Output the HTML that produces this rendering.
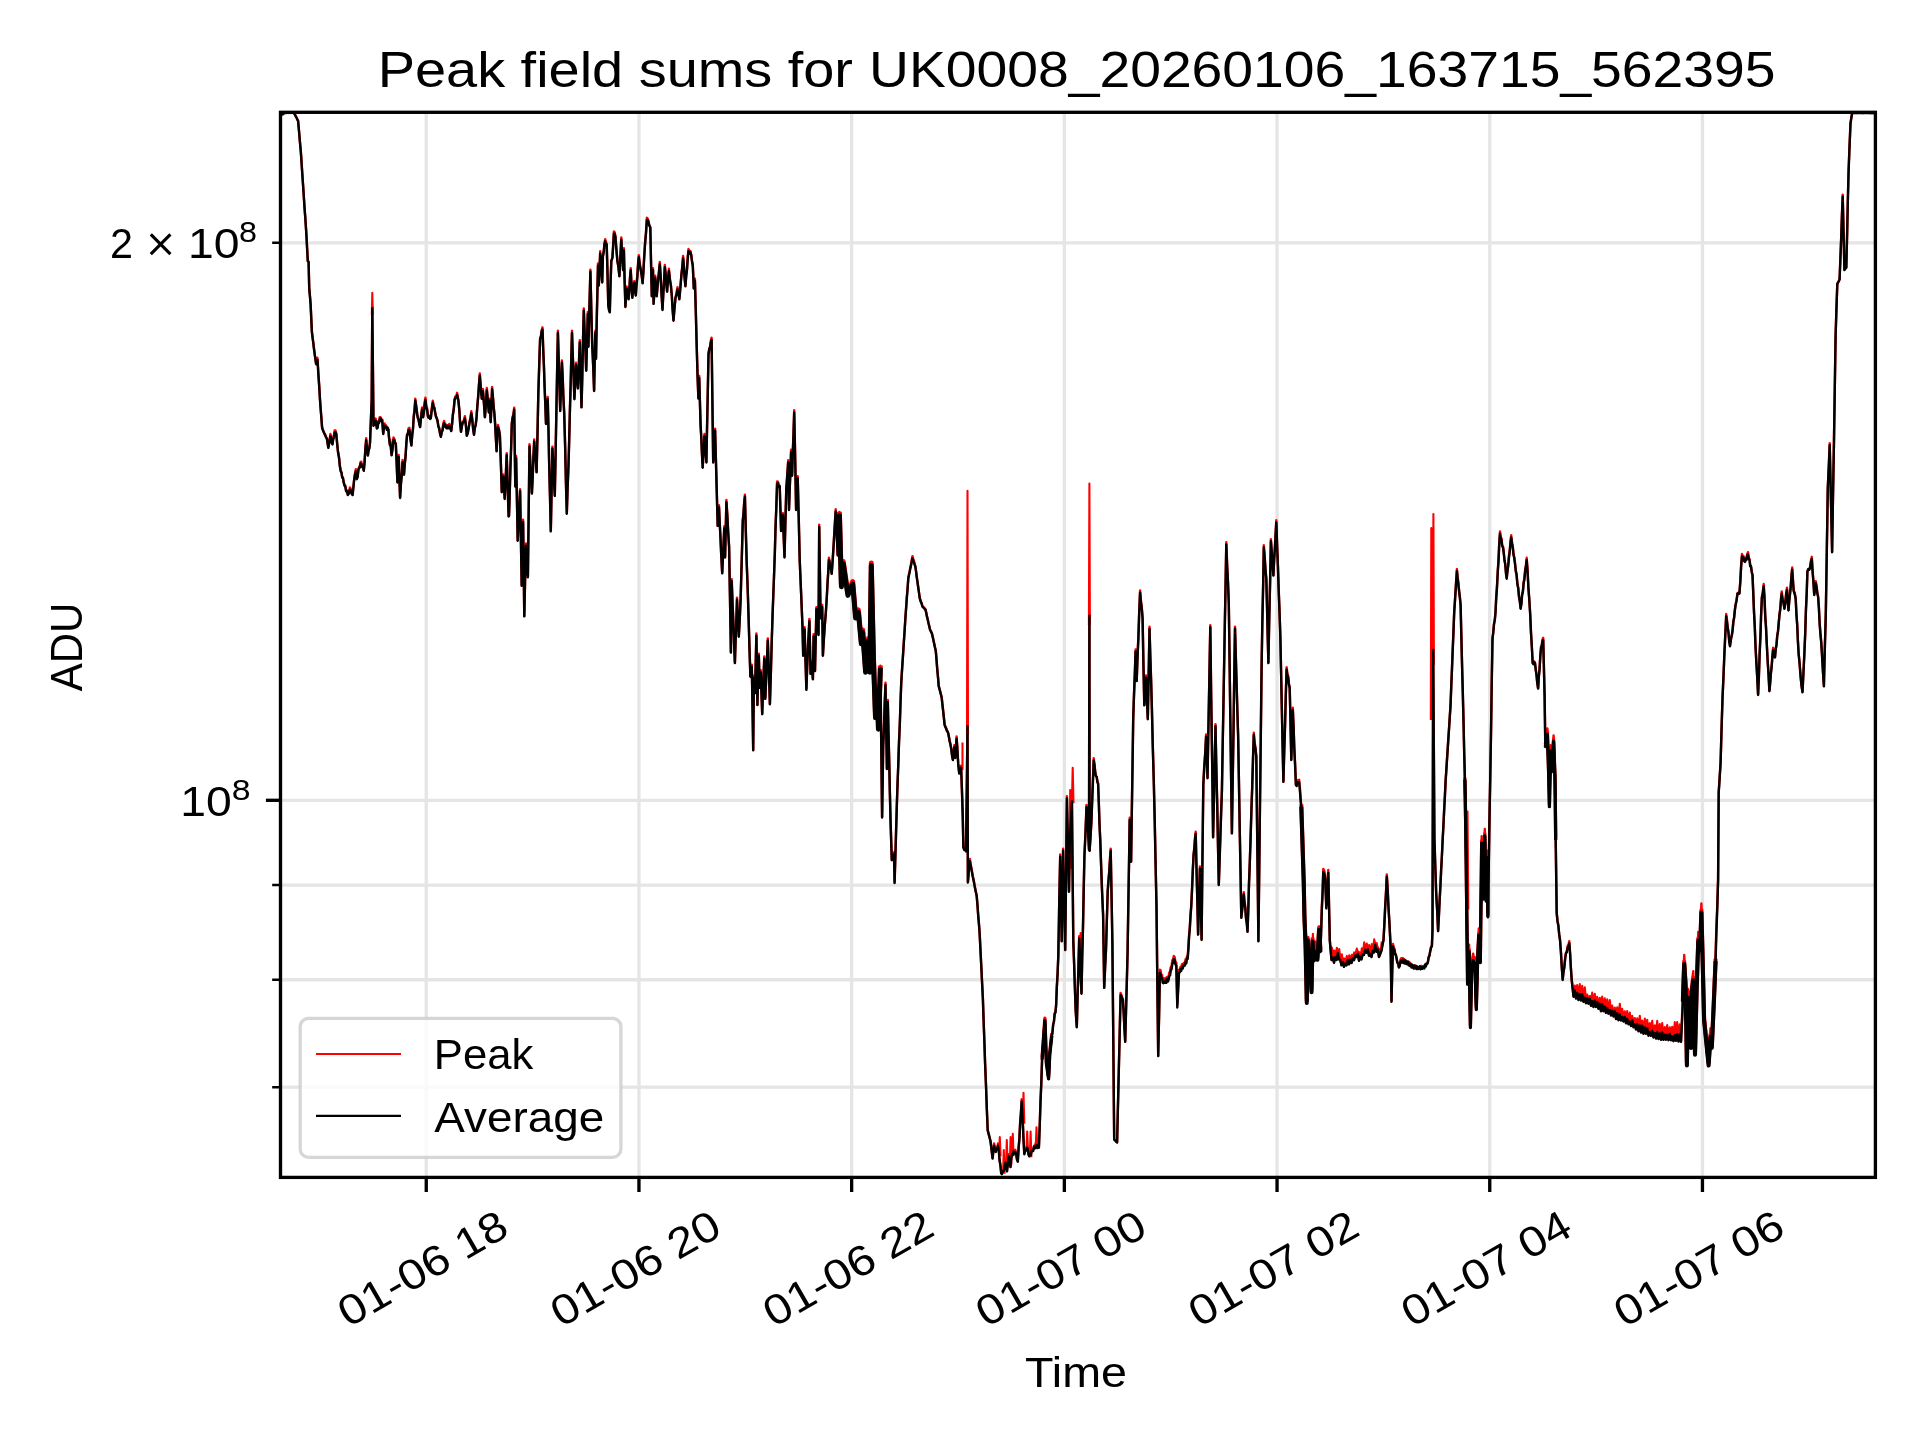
<!DOCTYPE html>
<html><head><meta charset="utf-8"><title>Peak field sums</title>
<style>html,body{margin:0;padding:0;background:#fff;width:1920px;height:1440px;overflow:hidden}svg{display:block;will-change:transform}text{fill:#000}</style>
</head><body>
<svg width="1920" height="1440" viewBox="0 0 1920 1440">
<defs><clipPath id="ax"><rect x="280.5" y="112.3" width="1594.90" height="1065.10"/></clipPath></defs>
<rect x="0" y="0" width="1920" height="1440" fill="#fff"/>
<path d="M426.25 112.30V1177.40M638.95 112.30V1177.40M851.65 112.30V1177.40M1064.35 112.30V1177.40M1277.05 112.30V1177.40M1489.75 112.30V1177.40M1702.45 112.30V1177.40M280.50 800.30H1875.40M280.50 242.79H1875.40M280.50 885.04H1875.40M280.50 979.78H1875.40M280.50 1087.18H1875.40" stroke="#e5e5e5" stroke-width="3.33" fill="none"/>
<g clip-path="url(#ax)">
<path d="M270.0 112.3L270.7 110.6L271.4 114.0L272.1 111.7L272.8 112.9L273.5 110.7L274.2 113.8L274.9 110.9L275.6 113.2L276.3 111.0L277.0 113.6L277.7 111.0L278.4 113.0L279.1 111.2L279.8 113.3L280.5 110.8L281.2 114.1L281.9 110.6L282.7 113.5L283.4 111.2L284.1 113.2L284.8 111.7L285.5 112.4L286.2 112.1L286.9 112.4L287.6 112.1L288.3 112.5L289.0 112.1L289.7 112.5L290.4 112.2L291.1 112.4L291.8 112.2L292.5 112.4L293.2 112.1L293.9 112.3L294.6 114.0L295.3 114.9L296.0 116.6L296.7 117.6L297.4 119.4L298.1 120.6L299.0 130.6L299.9 141.3L300.8 151.2L301.5 161.4L302.2 172.2L302.9 182.3L303.6 192.8L304.5 207.0L305.5 220.3L306.4 234.5L307.1 247.8L307.8 260.9L308.6 261.5L309.2 287.3L309.9 295.4L310.6 303.9L311.9 331.7L312.6 337.5L313.3 342.6L314.0 348.5L314.7 353.9L315.4 358.6L316.1 363.7L317.5 357.8L318.3 372.0L319.2 385.4L320.0 399.5L320.7 409.0L321.4 417.9L322.1 427.3L323.1 430.3L324.2 432.8L325.1 434.4L326.0 436.7L326.9 438.4L327.6 442.7L328.3 447.4L329.4 440.9L330.4 433.9L331.1 435.8L331.8 441.7L332.5 443.9L333.2 438.6L333.9 435.8L334.6 430.4L335.5 430.5L336.3 433.5L337.2 443.6L338.1 452.3L339.0 456.8L339.9 465.6L340.8 471.0L341.5 471.9L342.2 477.1L342.9 477.1L343.6 481.4L344.4 485.5L345.3 485.5L346.1 490.5L347.0 490.6L347.8 494.6L348.9 492.3L349.9 487.4L350.8 488.9L351.7 493.0L352.6 494.6L354.0 480.8L354.9 473.9L355.8 469.3L356.8 478.7L357.6 476.5L358.4 469.5L359.2 466.9L359.9 465.8L360.6 461.9L361.3 461.7L362.1 466.0L363.0 465.7L363.8 470.3L364.6 460.3L365.4 447.4L366.2 438.1L367.0 447.2L367.9 455.1L368.6 449.6L369.3 447.7L370.0 442.6L370.9 420.2L371.7 399.5L372.3 306.0L373.5 425.2L374.2 424.6L374.9 420.1L375.6 418.6L376.9 428.0L377.6 426.5L378.3 421.0L379.0 420.7L379.7 417.2L380.5 417.2L381.4 420.4L382.2 419.6L383.2 433.5L383.9 427.4L384.6 423.5L385.4 426.1L386.1 425.3L386.9 428.0L387.6 427.5L388.4 429.4L389.1 438.3L389.9 444.5L390.0 439.5L390.8 446.5L391.6 454.8L392.6 447.9L393.5 437.5L394.3 438.8L395.0 442.7L395.8 443.1L396.6 462.0L397.4 482.0L398.7 455.0L399.4 477.1L400.1 497.5L400.9 483.4L401.8 473.2L402.6 459.9L404.0 474.2L404.8 463.5L405.6 455.7L406.3 443.3L407.1 434.4L407.9 432.8L408.6 428.2L409.4 427.8L410.4 437.2L411.4 445.1L412.2 435.2L413.0 427.5L413.7 415.9L414.5 409.4L415.3 398.6L416.2 405.6L417.2 413.9L417.9 418.0L418.6 419.7L419.4 424.5L420.1 426.6L421.1 415.5L422.1 407.4L423.1 416.9L423.9 412.0L424.6 402.4L425.4 397.7L426.2 405.3L427.1 408.2L427.9 415.9L428.6 417.8L429.4 415.7L430.1 418.1L430.8 417.8L431.8 407.8L432.8 400.6L433.6 405.3L434.3 407.5L435.1 412.0L435.9 416.0L436.7 417.8L437.5 419.9L438.4 425.9L439.2 427.6L440.1 433.6L440.9 436.3L441.7 431.3L442.5 429.4L443.3 423.1L444.1 421.0L444.9 424.1L445.6 424.1L446.4 427.6L447.1 427.7L447.9 425.2L448.6 426.1L449.3 423.9L450.2 426.5L451.2 430.5L452.1 423.3L452.9 414.4L453.8 407.9L454.6 399.4L455.4 396.5L456.3 396.3L457.1 392.8L458.4 400.3L459.3 409.5L460.1 422.8L461.0 431.4L461.9 424.8L462.9 421.7L463.9 420.7L464.9 416.1L465.9 424.9L466.8 435.3L467.8 432.6L468.7 427.6L469.6 421.3L470.4 418.0L471.3 411.3L472.2 417.7L473.1 428.2L474.0 434.4L474.8 427.4L475.7 424.2L476.5 417.8L477.3 405.6L478.1 396.8L479.0 384.0L479.8 373.4L480.8 386.5L481.8 398.4L482.9 388.9L483.9 401.8L484.9 416.9L485.9 403.1L486.8 387.9L487.8 398.5L488.8 412.0L489.6 398.6L490.7 421.7L491.4 405.2L492.1 387.0L492.8 395.0L493.6 405.1L494.3 412.2L495.0 421.7L495.8 437.1L496.6 450.9L497.9 424.9L498.9 428.9L499.9 435.3L500.9 464.6L501.8 491.7L503.2 474.5L503.9 485.6L504.7 498.5L505.7 477.1L506.7 453.1L507.6 483.7L508.6 516.0L509.0 515.5L509.7 494.2L510.4 467.7L511.1 448.0L511.8 423.5L512.6 417.1L513.4 414.1L514.2 407.6L515.3 486.0L516.1 456.0L516.9 496.9L517.7 540.3L518.5 523.8L519.3 505.1L520.1 489.1L520.9 538.4L521.7 585.2L523.1 519.8L524.3 615.9L525.1 578.9L526.0 543.4L527.0 560.8L527.9 576.9L528.7 509.0L529.5 444.2L530.3 461.5L531.1 475.6L531.9 493.1L532.7 476.9L533.4 456.1L534.2 439.5L535.0 451.2L535.8 459.3L536.6 471.9L537.5 434.0L538.3 394.0L539.2 365.7L540.1 338.5L540.9 336.2L541.7 330.4L542.5 327.3L543.2 347.5L543.9 364.2L544.6 386.4L545.3 403.7L546.0 423.5L546.9 411.4L547.7 397.0L548.5 429.4L549.2 465.1L550.0 496.6L550.8 530.9L551.6 490.0L552.4 446.6L553.2 462.3L554.0 480.1L554.8 495.5L555.6 453.3L556.3 414.9L557.1 371.3L557.9 330.8L558.7 358.9L559.4 383.2L560.2 410.5L561.0 386.7L561.9 360.4L562.7 376.8L563.4 396.5L564.2 412.8L565.1 444.8L565.9 480.8L566.8 513.2L567.6 488.3L568.5 464.8L569.2 438.7L569.9 410.6L570.6 386.0L571.3 356.3L572.0 330.8L572.8 355.2L573.6 374.7L574.4 398.7L575.2 381.3L576.0 362.8L577.0 374.0L577.9 388.0L578.8 365.7L579.8 340.3L580.6 372.1L581.5 406.9L582.3 375.2L583.0 340.2L583.8 308.4L584.6 330.1L585.4 348.1L586.2 370.3L587.0 342.0L587.8 312.0L588.4 346.2L589.4 306.7L590.4 269.6L591.3 308.2L592.2 344.6L593.2 365.8L594.1 390.5L595.3 330.7L596.0 358.4L596.8 317.1L598.0 263.5L598.8 285.1L599.5 269.8L600.2 251.3L601.2 264.9L602.2 282.0L602.9 256.0L603.7 252.0L604.4 243.8L605.2 239.1L606.0 242.3L606.7 243.8L607.5 273.2L608.3 304.9L609.0 309.2L609.8 311.8L610.5 285.1L611.3 260.6L612.4 257.6L613.1 245.9L613.9 231.4L614.6 232.1L615.4 236.2L616.4 249.7L617.4 260.6L618.4 266.7L619.4 275.9L620.3 257.4L621.3 237.5L622.2 252.7L623.1 269.8L623.9 248.2L624.6 279.1L625.4 306.5L626.6 286.4L627.6 291.9L628.6 298.8L629.3 289.6L630.0 277.7L630.7 268.1L631.5 283.3L632.3 297.3L633.2 287.5L634.2 281.1L635.0 289.8L635.8 295.0L636.5 283.7L637.3 275.8L638.0 264.2L638.8 255.1L639.8 263.3L640.8 269.8L641.7 274.9L642.6 282.8L643.4 271.2L644.2 256.8L645.1 242.7L646.0 231.9L646.9 217.7L647.6 218.6L648.4 220.9L649.3 225.2L650.3 227.0L651.0 259.7L651.8 295.8L653.0 268.1L653.6 303.4L654.4 291.0L655.2 275.7L656.0 285.1L656.7 295.8L657.9 282.0L658.8 273.2L659.8 262.0L660.7 276.4L661.6 294.5L662.5 309.5L663.3 293.0L664.0 281.0L664.8 265.0L665.6 272.3L666.3 283.5L667.1 291.2L668.0 278.2L668.9 268.8L669.9 278.5L670.9 285.1L671.8 295.5L672.6 309.2L673.5 320.2L674.5 307.7L675.5 297.3L676.5 292.8L677.5 287.2L678.4 291.7L679.3 298.8L680.0 292.1L680.8 282.0L681.6 272.5L682.3 265.8L683.1 255.9L683.9 264.7L684.6 276.9L685.4 285.8L686.2 275.2L687.0 269.1L687.7 256.8L688.5 249.0L689.4 252.0L690.3 250.9L691.2 254.5L692.0 260.8L692.8 265.2L693.8 288.1L694.9 278.8L695.8 310.0L696.7 345.4L697.6 376.7L698.4 398.1L699.2 375.9L700.6 425.1L701.3 437.7L702.0 454.8L702.7 467.3L703.6 449.8L704.5 433.9L705.5 449.3L706.4 462.0L707.1 424.9L707.8 391.2L708.5 353.8L709.3 348.0L710.0 347.0L710.8 341.1L711.6 337.6L712.4 400.9L713.2 462.0L714.2 443.9L715.1 428.6L716.0 462.5L716.8 491.8L717.7 525.4L719.0 505.2L719.7 522.3L720.4 535.7L721.1 551.8L722.2 572.9L723.2 551.3L724.3 526.3L725.1 557.0L726.4 499.9L727.3 514.0L728.2 532.3L729.1 546.5L730.0 597.6L730.9 652.0L731.7 579.1L732.5 601.6L733.3 620.2L734.1 643.3L734.9 662.6L735.6 639.4L736.3 620.1L737.0 597.6L737.9 615.4L738.8 636.2L739.8 617.7L740.7 596.6L741.8 557.6L742.8 520.1L743.5 513.2L744.2 502.4L744.9 494.6L745.8 529.8L746.7 562.3L747.7 588.9L748.6 617.7L749.5 647.8L750.4 676.2L751.8 664.8L752.5 706.0L753.2 749.8L753.9 675.8L755.0 692.8L756.4 633.5L757.4 704.6L758.8 653.6L759.7 687.3L760.8 670.3L761.5 693.1L762.2 713.7L763.2 684.3L764.3 656.4L765.3 698.4L766.1 680.2L767.0 657.8L767.8 638.4L768.5 660.8L769.2 680.9L769.9 703.9L770.8 675.4L771.7 642.4L772.6 613.7L774.0 576.2L774.8 554.0L775.5 527.6L776.3 506.5L777.1 481.4L778.0 481.9L778.8 485.2L779.7 485.8L781.1 530.6L782.0 520.7L782.9 513.1L783.7 535.6L784.5 557.0L785.4 522.1L786.3 488.4L787.2 475.8L788.2 460.3L789.0 509.5L789.7 488.8L790.4 471.2L791.1 449.8L792.1 475.2L792.8 452.0L793.5 432.9L794.2 410.2L795.2 458.5L796.1 509.5L796.9 494.4L797.7 476.2L798.7 516.2L799.7 559.5L801.1 592.8L802.5 626.2L803.2 655.3L804.6 627.2L805.5 659.0L806.4 689.4L807.2 666.1L808.1 644.2L809.4 618.9L810.6 673.4L811.5 660.6L812.9 678.9L813.6 634.2L815.0 670.6L816.4 607.1L817.1 617.3L817.8 624.2L818.5 634.5L819.2 524.8L820.6 617.8L821.4 612.3L822.2 605.0L822.9 655.3L823.8 640.2L824.7 626.2L825.8 612.8L826.8 597.0L827.5 582.2L828.2 571.9L828.9 557.8L829.6 560.5L830.3 566.6L831.0 568.4L831.7 573.4L832.7 560.1L833.7 543.6L834.7 525.5L835.7 509.2L836.7 533.5L837.7 555.0L838.5 532.0L839.4 512.0L840.4 550.7L841.4 586.3L842.3 571.8L843.3 561.8L844.0 568.1L844.8 570.6L845.5 579.3L846.2 583.5L847.0 587.4L847.9 594.9L848.7 594.7L849.5 588.8L850.3 589.7L851.1 584.1L851.9 584.8L852.7 581.8L853.4 589.0L854.2 601.0L854.9 607.1L855.6 617.6L856.5 617.2L857.5 610.7L858.4 610.2L859.1 620.2L859.8 625.5L860.6 636.1L861.3 643.3L862.0 635.3L862.7 630.2L863.4 641.7L864.2 649.8L864.9 663.6L865.6 671.7L866.5 659.8L867.5 651.7L868.4 638.7L869.8 671.7L870.5 616.2L871.3 563.3L872.0 596.9L872.8 626.7L873.5 660.3L874.5 689.6L875.5 717.3L876.5 700.7L877.5 687.1L878.4 728.7L879.4 698.2L880.4 665.8L881.2 740.0L882.1 817.0L883.2 745.8L884.0 725.7L884.7 702.1L885.5 682.8L886.9 768.5L887.8 699.9L888.5 732.3L889.2 760.2L889.9 793.3L890.6 822.6L891.8 859.7L892.5 855.5L893.3 855.7L894.0 852.3L894.6 882.5L895.4 855.2L896.1 830.1L896.9 802.7L897.6 782.0L898.3 764.2L899.0 741.9L899.8 724.0L900.5 702.8L901.2 683.1L902.0 670.1L902.9 656.7L903.7 644.0L904.6 630.5L905.4 617.6L906.1 607.9L906.8 597.6L907.6 588.0L908.3 577.8L909.0 573.9L909.7 570.7L910.4 566.7L911.1 563.6L911.8 559.5L912.5 556.1L913.2 558.9L914.0 561.0L914.7 564.1L915.4 566.4L916.1 571.4L916.8 577.1L917.5 581.9L918.3 587.5L919.0 592.3L919.7 597.7L920.6 600.7L921.6 603.2L922.5 606.2L923.2 607.0L924.0 607.4L924.7 608.5L925.4 609.1L926.2 612.3L926.9 616.0L927.7 619.0L928.5 622.8L929.2 625.7L930.0 629.2L931.0 631.2L931.9 633.1L932.7 636.5L933.5 640.2L934.2 643.3L935.0 647.3L935.8 650.6L936.5 659.1L937.2 668.3L938.0 676.7L938.7 685.6L939.5 688.7L940.2 691.2L941.0 694.5L941.7 697.3L942.4 704.0L943.2 711.1L943.9 717.6L944.6 724.5L945.4 726.6L946.2 728.1L946.9 730.4L947.7 731.5L948.5 734.2L949.5 739.8L950.4 743.9L951.2 748.2L952.1 755.4L952.9 759.5L954.3 745.2L955.3 757.5L956.6 736.4L957.4 749.0L958.2 763.4L959.2 773.1L960.2 770.3L961.1 765.6L961.9 788.9L962.7 813.9L963.4 847.0L964.3 849.1L965.1 848.3L966.0 850.9L966.8 788.3L967.5 723.8L967.9 882.0L968.9 869.4L969.9 858.9L970.6 863.5L971.3 867.5L972.1 872.0L972.8 876.2L973.8 880.8L974.7 885.9L975.7 890.9L976.7 895.6L977.5 905.0L978.2 915.0L979.0 924.3L979.7 934.1L980.5 950.5L981.3 966.3L982.1 982.8L982.9 998.7L983.6 1020.0L984.4 1041.9L985.1 1063.3L986.0 1085.3L986.8 1107.9L987.7 1130.0L988.6 1133.4L989.6 1137.4L990.5 1140.8L991.2 1146.4L991.9 1152.5L992.6 1158.0L993.4 1149.4L994.1 1143.4L995.0 1148.7L995.8 1151.5L996.5 1147.6L997.3 1147.9L998.0 1143.4L998.8 1149.0L999.6 1159.8L1000.4 1164.5L1001.2 1173.0L1001.9 1173.4L1002.7 1170.4L1003.4 1170.9L1004.1 1168.1L1004.8 1163.4L1005.5 1160.6L1006.2 1167.5L1007.0 1170.9L1007.9 1161.8L1008.8 1154.1L1009.6 1162.1L1010.5 1166.6L1011.2 1158.8L1012.0 1153.7L1012.8 1154.4L1013.6 1151.1L1014.4 1151.7L1015.2 1149.8L1016.1 1152.1L1016.9 1158.0L1017.8 1161.2L1018.6 1148.1L1019.4 1137.4L1020.1 1123.2L1020.9 1112.3L1021.7 1099.2L1022.6 1116.0L1023.4 1136.2L1024.3 1153.7L1025.2 1149.2L1026.2 1149.6L1027.1 1145.5L1027.8 1148.3L1028.5 1154.0L1029.2 1155.8L1030.0 1153.6L1030.8 1154.2L1031.6 1150.5L1032.4 1150.4L1033.2 1149.4L1034.1 1145.7L1034.9 1145.8L1035.7 1143.4L1036.5 1143.6L1037.3 1147.0L1038.1 1144.7L1038.9 1147.2L1039.7 1126.3L1040.5 1101.3L1041.3 1083.2L1042.1 1059.0L1042.8 1047.9L1043.5 1040.3L1044.2 1027.7L1044.9 1018.5L1045.7 1041.8L1046.4 1063.3L1047.1 1067.4L1047.9 1074.3L1048.6 1078.3L1049.7 1054.6L1050.8 1044.2L1051.8 1035.3L1052.5 1031.3L1053.2 1023.9L1053.9 1021.9L1054.7 1013.1L1055.4 1012.3L1056.1 1005.1L1056.8 987.2L1057.6 973.3L1058.3 955.6L1059.2 903.4L1060.2 854.5L1061.0 898.3L1061.7 940.7L1063.1 848.6L1063.8 881.6L1064.5 917.4L1065.2 949.5L1066.1 871.5L1066.9 796.1L1068.0 844.5L1069.0 891.2L1069.8 841.6L1070.5 826.4L1071.2 814.2L1071.9 799.1L1073.3 940.7L1074.1 963.0L1074.9 988.5L1075.7 1010.8L1076.8 1026.8L1077.6 995.5L1078.4 967.9L1079.2 936.1L1080.0 953.6L1080.7 975.5L1081.5 993.3L1082.2 957.9L1083.0 925.6L1083.7 889.0L1084.4 856.2L1085.5 832.3L1086.5 804.9L1087.2 815.1L1087.9 827.0L1089.0 849.5L1089.4 613.4L1089.6 850.3L1090.5 837.2L1091.4 821.2L1092.2 798.8L1092.9 780.6L1093.7 758.2L1094.5 764.3L1095.2 771.6L1095.9 775.8L1096.7 776.7L1097.4 781.2L1098.1 783.3L1098.8 801.7L1099.5 824.0L1100.3 841.0L1101.0 862.0L1102.0 889.7L1103.1 914.5L1104.2 987.4L1105.1 967.0L1106.0 949.5L1106.8 921.5L1107.7 891.2L1108.5 879.9L1109.2 871.4L1110.0 857.7L1110.7 848.6L1111.6 897.7L1112.4 943.7L1113.3 1041.2L1114.2 1139.1L1114.9 1139.9L1115.7 1140.4L1116.4 1141.4L1117.1 1142.0L1117.8 1112.0L1118.5 1082.6L1119.2 1052.5L1119.9 1023.1L1120.6 993.0L1121.4 994.8L1122.1 997.3L1122.9 999.1L1123.7 1013.0L1124.4 1027.4L1125.2 1041.4L1126.0 1011.3L1126.8 983.0L1127.6 951.4L1128.3 905.4L1129.0 863.2L1129.7 817.8L1131.1 861.2L1131.8 812.1L1132.5 767.5L1133.2 718.8L1134.0 694.6L1134.8 673.6L1135.6 649.4L1136.7 680.6L1137.5 656.6L1138.4 636.6L1139.2 611.6L1140.1 590.4L1140.9 600.3L1141.8 607.4L1142.6 618.1L1143.4 662.4L1144.3 704.9L1145.2 688.5L1146.0 675.4L1146.9 697.9L1147.8 718.8L1148.7 671.8L1149.5 626.8L1150.3 655.2L1151.1 680.2L1151.9 708.4L1152.8 746.6L1153.8 780.8L1154.7 819.5L1155.6 863.7L1156.5 906.3L1157.3 979.4L1158.2 1055.6L1159.1 1014.1L1159.9 969.8L1160.6 970.3L1161.3 975.1L1162.0 974.9L1162.7 979.1L1163.4 980.2L1164.1 978.6L1164.9 980.1L1165.6 977.9L1166.4 979.3L1167.1 976.9L1167.9 978.3L1168.6 976.7L1169.3 972.5L1170.1 971.7L1170.8 967.0L1171.6 966.1L1172.3 960.2L1173.1 959.7L1173.8 955.9L1174.6 956.9L1175.5 961.9L1176.3 962.8L1177.3 1004.5L1178.2 985.5L1179.0 969.8L1179.7 970.2L1180.5 966.9L1181.2 967.6L1182.0 964.2L1182.7 965.7L1183.5 963.2L1184.2 962.8L1184.9 963.1L1185.6 959.3L1186.3 959.6L1187.0 956.3L1187.7 955.9L1188.4 946.8L1189.1 934.6L1189.8 927.1L1190.5 915.1L1191.2 906.3L1192.0 890.0L1192.8 870.0L1193.6 854.2L1194.3 847.3L1195.0 837.9L1195.7 831.7L1196.5 866.5L1197.3 899.2L1198.1 934.1L1199.0 901.6L1199.9 866.4L1200.8 901.8L1201.6 939.3L1202.4 862.7L1203.3 784.8L1204.2 766.8L1205.2 753.0L1206.1 734.5L1206.8 754.8L1207.5 777.8L1208.4 728.1L1209.4 674.5L1210.3 625.1L1211.2 697.4L1212.2 765.6L1213.1 836.9L1213.9 800.2L1214.7 759.9L1215.5 724.1L1216.3 765.9L1217.2 803.5L1218.0 845.8L1218.8 884.5L1219.6 859.4L1220.3 838.9L1221.1 812.8L1221.9 790.8L1222.6 750.3L1223.4 706.6L1224.1 665.8L1224.8 625.4L1225.6 582.8L1226.3 542.2L1227.1 563.9L1228.0 582.2L1228.8 603.3L1229.6 662.0L1230.3 717.1L1231.1 776.6L1231.9 832.9L1232.7 779.6L1233.5 730.8L1234.2 677.0L1235.0 626.6L1235.8 654.6L1236.5 679.7L1237.3 708.3L1238.1 734.5L1238.9 779.0L1239.7 827.5L1240.5 870.9L1241.3 917.3L1242.1 910.7L1243.0 899.2L1243.8 892.2L1244.5 900.6L1245.3 906.4L1246.0 916.8L1246.8 922.4L1247.5 931.4L1248.3 908.6L1249.0 883.3L1249.8 862.2L1250.6 837.6L1251.4 809.9L1252.2 786.5L1253.0 757.6L1253.8 732.8L1254.6 742.1L1255.5 747.7L1256.3 756.4L1257.0 818.4L1257.7 878.2L1258.4 940.8L1259.2 872.8L1260.0 802.6L1260.8 735.5L1261.6 665.8L1262.3 624.4L1263.1 586.8L1263.8 545.3L1264.6 554.9L1265.5 569.0L1266.3 578.3L1267.0 605.7L1267.7 635.7L1268.4 662.6L1269.2 620.8L1270.1 581.7L1270.9 539.1L1271.7 550.0L1272.6 563.8L1273.4 575.1L1274.1 560.5L1274.8 549.1L1275.6 532.9L1276.3 520.3L1277.1 544.9L1277.9 565.0L1278.7 589.8L1279.5 610.0L1280.3 634.5L1281.1 672.5L1281.8 707.3L1282.6 746.2L1283.4 781.4L1284.2 751.9L1285.0 726.0L1285.8 694.4L1286.6 667.2L1287.4 673.9L1288.2 675.7L1288.9 683.7L1289.7 687.6L1290.5 721.8L1291.3 759.5L1292.0 734.2L1292.8 707.8L1293.6 726.0L1294.3 747.7L1295.1 764.8L1295.9 784.5L1296.7 784.7L1297.5 780.3L1298.3 782.3L1299.1 779.7L1299.8 787.0L1300.6 798.3L1301.3 806.4L1302.1 830.8L1303.0 860.2L1303.8 884.5L1304.4 916.2L1305.6 943.2L1306.8 999.9L1307.7 937.3L1308.9 973.9L1310.1 946.8L1310.8 966.6L1311.5 989.2L1312.5 938.5L1313.2 949.3L1313.9 957.4L1314.8 951.3L1315.7 949.1L1316.6 953.9L1317.4 956.8L1318.3 941.0L1319.2 926.7L1320.4 949.1L1321.1 930.7L1321.8 906.7L1322.6 890.5L1323.3 868.9L1324.2 870.5L1325.1 874.8L1326.3 905.5L1327.3 888.7L1328.3 870.0L1329.0 903.2L1329.8 939.8L1330.7 950.3L1331.5 959.6L1332.8 955.6L1334.0 962.3L1335.2 954.9L1336.5 959.6L1337.8 950.8L1339.0 959.1L1340.2 959.2L1341.5 964.9L1342.8 960.0L1344.0 966.4L1345.2 961.4L1346.5 964.9L1347.8 957.7L1349.0 963.9L1350.2 957.4L1351.5 962.6L1352.8 956.0L1354.0 959.7L1355.2 953.2L1356.5 956.5L1357.8 951.5L1359.0 960.3L1360.2 954.4L1361.5 958.9L1362.8 951.9L1364.0 954.3L1365.2 947.6L1366.5 952.2L1367.8 947.2L1369.0 955.4L1370.2 951.7L1371.5 956.6L1372.8 948.5L1374.0 951.9L1375.2 942.6L1376.5 951.3L1377.8 947.4L1379.0 956.5L1380.2 953.7L1381.5 950.2L1382.5 944.1L1383.5 939.8L1384.3 925.0L1385.2 905.4L1386.0 891.8L1386.8 874.4L1387.7 888.6L1388.5 906.9L1389.4 922.1L1390.6 945.7L1391.5 1001.2L1392.2 971.3L1393.0 944.0L1393.7 947.3L1394.4 948.6L1395.1 952.9L1395.8 954.3L1396.5 957.5L1397.3 961.7L1398.1 962.7L1398.9 967.0L1399.7 965.0L1400.4 959.8L1401.2 958.2L1401.9 959.3L1402.7 958.0L1403.4 960.9L1404.2 959.2L1404.9 962.4L1405.6 960.5L1406.4 962.8L1407.1 962.2L1407.8 961.6L1408.6 964.3L1409.3 962.0L1410.0 965.6L1410.8 963.6L1411.5 966.4L1412.3 964.8L1413.0 966.4L1413.7 968.3L1414.5 965.2L1415.2 968.2L1416.0 966.3L1416.7 968.4L1417.4 966.6L1418.2 968.4L1418.9 967.6L1419.7 967.0L1420.5 969.0L1421.2 965.8L1422.0 968.9L1422.8 966.3L1423.6 967.6L1424.3 967.6L1425.0 964.8L1425.8 966.2L1426.5 963.2L1427.2 963.4L1427.9 961.3L1428.7 956.7L1429.4 956.0L1430.1 951.6L1431.0 946.9L1431.9 945.7L1432.5 929.5L1433.2 647.8L1434.4 837.0L1435.3 866.7L1436.2 893.2L1437.2 910.6L1438.1 930.7L1438.9 915.8L1439.6 900.6L1440.4 885.9L1441.1 870.4L1441.9 855.7L1442.6 840.9L1443.4 825.5L1444.1 810.9L1444.9 795.6L1445.6 780.7L1446.3 770.2L1447.0 759.1L1447.7 748.8L1448.4 737.7L1449.1 727.3L1449.8 716.2L1450.5 705.7L1451.2 687.1L1452.0 668.1L1452.7 649.7L1453.5 630.5L1454.2 612.0L1455.1 597.8L1456.0 583.2L1456.9 569.0L1457.6 576.4L1458.4 583.0L1459.1 590.5L1459.9 597.1L1460.6 604.5L1461.3 633.8L1462.0 662.6L1462.8 692.2L1463.5 720.1L1464.2 752.6L1464.9 779.5L1465.8 830.1L1466.7 901.4L1467.6 977.2L1468.3 962.2L1469.1 944.6L1470.4 1020.5L1471.6 966.3L1472.3 958.3L1473.1 953.7L1474.0 957.5L1474.9 957.3L1476.3 1002.5L1477.6 953.7L1478.8 928.4L1479.5 940.1L1480.3 955.5L1481.0 897.1L1481.7 836.2L1483.0 892.2L1483.9 858.6L1484.8 829.0L1486.1 894.0L1487.2 850.7L1487.9 910.3L1488.7 868.0L1489.4 822.2L1490.2 779.5L1491.0 733.8L1491.7 683.9L1492.5 638.2L1493.2 632.7L1494.0 623.9L1494.8 620.3L1495.5 612.0L1496.2 597.0L1497.0 586.2L1497.8 570.1L1498.5 559.6L1499.2 543.9L1500.0 531.5L1500.7 537.0L1501.5 538.2L1502.2 545.5L1503.0 546.5L1503.7 552.0L1504.5 559.9L1505.2 564.1L1506.0 572.2L1506.7 578.2L1507.5 569.9L1508.2 564.6L1509.0 555.0L1509.7 550.6L1510.5 541.1L1511.2 535.3L1512.0 542.3L1512.7 545.7L1513.5 553.6L1514.2 556.7L1515.0 563.2L1515.8 570.3L1516.6 574.8L1517.4 583.5L1518.2 587.2L1519.0 596.4L1519.8 601.1L1520.6 608.2L1521.4 602.5L1522.1 595.0L1522.9 590.5L1523.7 581.6L1524.4 577.3L1525.2 569.4L1525.9 565.2L1526.7 557.8L1527.6 570.0L1528.4 587.4L1529.3 599.5L1530.2 613.7L1531.0 632.5L1531.8 645.7L1532.7 662.8L1533.5 663.6L1534.2 661.5L1535.0 662.8L1535.8 669.9L1536.5 674.5L1537.3 683.4L1538.1 688.1L1538.8 676.4L1539.6 668.8L1540.3 655.8L1541.1 646.5L1541.8 644.5L1542.5 639.5L1543.2 637.8L1544.6 695.0L1545.3 741.0L1546.0 738.4L1546.7 731.5L1547.4 728.4L1548.8 772.9L1549.4 800.7L1550.6 745.1L1551.5 766.0L1552.5 752.8L1553.6 735.4L1554.3 751.8L1555.0 772.9L1555.7 839.5L1556.7 912.8L1557.5 920.2L1558.3 925.3L1559.2 934.4L1560.0 939.5L1560.9 951.4L1561.8 967.0L1562.7 979.5L1563.5 971.5L1564.3 967.0L1565.2 957.8L1566.0 952.8L1566.8 951.2L1567.7 945.8L1568.5 944.8L1569.3 941.1L1570.1 952.8L1570.9 967.8L1571.7 979.5L1572.6 987.6L1573.5 996.2L1574.8 988.3L1576.0 998.1L1577.2 990.8L1578.5 999.5L1579.8 992.1L1581.0 1000.1L1582.2 992.1L1583.5 1001.3L1584.8 995.5L1586.0 1002.8L1587.2 996.0L1588.5 1003.2L1589.8 996.4L1591.0 1005.4L1592.2 999.0L1593.5 1006.6L1594.8 998.2L1596.0 1006.6L1597.2 999.7L1598.5 1008.3L1599.8 1001.6L1601.0 1010.8L1602.2 1002.0L1603.5 1010.9L1604.8 1004.5L1606.0 1012.4L1607.2 1005.8L1608.5 1013.2L1609.8 1007.9L1611.0 1015.0L1612.2 1008.6L1613.5 1016.0L1614.8 1009.2L1616.0 1018.5L1617.2 1010.9L1618.5 1019.8L1619.8 1012.5L1621.0 1020.1L1622.2 1014.7L1623.5 1021.0L1624.8 1014.7L1626.0 1022.9L1627.2 1016.8L1628.5 1023.8L1629.8 1019.3L1631.0 1025.5L1632.2 1018.0L1633.5 1026.9L1634.8 1022.1L1636.0 1029.0L1637.2 1021.7L1638.5 1030.8L1639.8 1023.2L1641.0 1032.0L1642.2 1023.4L1643.5 1033.3L1644.8 1025.3L1646.0 1033.2L1647.2 1026.1L1648.5 1035.2L1649.8 1029.7L1651.0 1035.3L1652.2 1028.5L1653.5 1037.0L1654.8 1031.0L1656.0 1038.1L1657.2 1029.6L1658.5 1038.6L1659.8 1031.2L1661.0 1039.2L1662.2 1030.2L1663.5 1039.4L1664.8 1032.4L1666.0 1039.2L1667.2 1032.7L1668.5 1039.7L1669.8 1031.7L1671.0 1039.9L1672.2 1034.4L1673.5 1040.7L1674.8 1033.0L1676.0 1040.2L1677.2 1032.0L1678.5 1041.1L1679.8 1032.3L1681.0 1041.4L1682.0 1017.4L1682.9 992.9L1684.2 955.0L1685.6 976.6L1686.9 1056.5L1687.9 988.8L1689.2 992.9L1690.1 1014.9L1691.0 1038.9L1691.9 982.0L1693.3 971.2L1694.2 1010.3L1695.0 1045.7L1695.8 1010.3L1696.7 979.3L1697.5 957.7L1698.3 931.9L1699.2 934.9L1700.1 941.4L1701.4 903.5L1702.8 957.7L1704.1 1011.8L1704.9 1021.5L1705.6 1026.2L1706.4 1034.8L1707.1 1043.1L1707.9 1047.4L1708.6 1056.5L1709.5 1043.0L1710.5 1028.1L1711.8 1038.9L1712.7 1018.4L1713.6 999.6L1714.6 977.9L1715.6 952.2L1716.4 927.2L1717.3 904.5L1718.1 879.5L1718.7 792.0L1719.7 776.8L1720.6 762.0L1721.5 730.3L1722.5 698.2L1723.5 675.6L1724.4 653.2L1725.3 633.8L1726.2 614.0L1727.0 620.2L1727.7 626.9L1728.5 631.9L1729.2 640.1L1730.0 645.7L1731.0 638.4L1731.9 634.5L1732.6 629.3L1733.4 620.9L1734.1 618.1L1734.9 609.4L1735.6 604.5L1736.5 600.6L1737.5 593.2L1738.5 592.6L1739.4 593.2L1740.3 580.9L1741.1 565.9L1742.0 554.0L1742.8 556.5L1743.5 556.1L1744.2 560.8L1745.0 561.4L1745.8 557.6L1746.5 557.7L1747.2 553.9L1748.0 552.2L1748.8 557.6L1749.5 558.8L1750.2 564.4L1751.0 566.4L1751.8 572.1L1752.5 574.5L1753.2 591.2L1754.0 610.9L1754.8 627.3L1755.5 645.7L1756.4 662.9L1757.2 676.7L1758.1 694.5L1758.9 675.7L1759.6 654.7L1760.4 637.3L1761.1 615.2L1761.9 597.0L1762.8 592.1L1763.7 584.0L1764.5 597.1L1765.2 614.6L1766.0 626.8L1766.7 642.0L1767.6 659.9L1768.5 673.9L1769.4 690.7L1770.1 682.8L1770.9 672.9L1771.6 666.5L1772.4 655.2L1773.1 647.8L1774.0 654.1L1775.0 657.0L1775.7 648.5L1776.5 645.2L1777.2 635.4L1778.0 630.9L1778.7 623.2L1779.5 613.5L1780.2 608.8L1781.0 598.6L1781.7 591.5L1782.6 598.3L1783.5 602.1L1784.4 608.2L1785.3 602.0L1786.1 593.3L1787.0 587.8L1787.8 600.3L1788.5 610.0L1789.2 600.6L1789.9 594.5L1790.7 587.0L1791.4 575.8L1792.2 567.5L1793.0 580.5L1793.7 590.6L1794.7 592.7L1795.7 598.4L1796.4 613.4L1797.2 624.5L1797.9 640.1L1798.6 652.8L1799.6 663.9L1800.6 676.2L1801.5 685.3L1802.5 691.7L1803.5 670.5L1804.4 652.8L1805.2 633.1L1805.9 610.4L1806.7 593.3L1807.4 571.2L1808.3 569.2L1809.3 569.2L1810.1 566.7L1811.0 560.2L1811.8 556.8L1812.6 570.3L1813.4 580.7L1814.2 594.5L1815.0 589.4L1815.7 581.1L1816.5 585.0L1817.3 592.0L1818.1 596.4L1818.9 607.0L1819.6 622.3L1820.4 633.4L1821.2 641.6L1821.9 652.8L1822.9 670.2L1823.9 685.9L1824.8 648.9L1825.8 613.9L1826.8 550.8L1827.8 487.6L1828.8 465.2L1829.7 443.1L1830.5 479.5L1831.3 515.3L1832.1 551.7L1833.0 495.8L1834.0 439.5L1834.8 387.3L1835.6 335.6L1836.4 309.8L1837.3 283.7L1838.1 281.9L1838.8 280.8L1839.6 279.0L1840.4 257.8L1841.2 236.9L1841.9 215.4L1842.7 194.6L1843.6 232.3L1844.4 269.5L1845.3 268.2L1846.3 267.1L1847.1 235.0L1847.8 202.4L1848.6 170.3L1849.5 146.9L1850.5 123.1L1851.3 117.6L1852.2 112.5L1852.9 112.6L1853.6 112.4L1854.3 112.7L1855.1 112.2L1855.8 112.6L1856.5 112.3L1857.2 112.7L1857.9 112.4L1858.6 112.7L1859.3 112.3L1860.0 112.7L1860.8 112.3L1861.5 112.6L1862.2 112.3L1862.9 112.6L1863.6 112.3L1864.3 112.7L1865.0 112.4L1865.7 112.6L1866.5 112.4L1867.2 112.7L1867.9 112.3L1868.6 112.7L1869.3 112.4L1870.0 112.7L1870.7 112.4L1871.4 112.6L1872.2 112.4L1872.9 112.8L1873.6 112.2L1874.3 112.7L1875.0 112.4L1875.7 112.6L1876.4 112.4L1877.1 112.6L1877.9 112.3L1878.6 112.6L1879.3 112.3L1880.0 112.5" stroke="#ff0000" stroke-width="2.4" fill="none" stroke-linejoin="round"/>
<path d="M371.8 315L372.3 292.9L372.8 315M967 735L967.5 490.8L968 735M962.5 770V742.5M1088.9 625L1089.4 483.6L1089.9 625M1430.8 720L1431.3 528L1431.8 720M1432.9 665L1433.4 514L1433.9 665M1573.5 992.9L1574.8 985.6L1576.0 994.2L1577.2 985.0L1578.5 995.6L1579.8 984.1L1581.0 997.0L1582.2 985.8L1583.5 998.2L1584.8 987.4L1586.0 999.3L1587.2 994.6L1588.5 1000.4L1589.8 996.1L1591.0 1001.5L1592.2 992.6L1593.5 1002.8L1594.8 993.8L1596.0 1004.2L1597.2 996.9L1598.5 1005.5L1599.8 997.7L1601.0 1006.9L1602.2 996.5L1603.5 1008.2L1604.8 998.3L1606.0 1009.5L1607.2 999.4L1608.5 1010.8L1609.8 1000.1L1611.0 1012.1L1612.2 1005.6L1613.5 1013.4L1614.8 1007.5L1616.0 1014.7L1617.2 1007.3L1618.5 1016.1L1619.8 1003.7L1621.0 1017.4L1622.2 1008.9L1623.5 1018.8L1624.8 1011.2L1626.0 1020.1L1627.2 1011.0L1628.5 1021.5L1629.8 1012.6L1631.0 1022.8L1632.2 1015.7L1633.5 1024.2L1634.8 1018.0L1636.0 1025.5L1637.2 1018.4L1638.5 1026.9L1639.8 1015.7L1641.0 1028.2L1642.2 1020.6L1643.5 1029.6L1644.8 1018.6L1646.0 1030.9L1647.2 1019.7L1648.5 1032.3L1649.8 1023.0L1651.0 1033.1L1652.2 1020.8L1653.5 1033.7L1654.8 1025.3L1656.0 1034.4L1657.2 1020.9L1658.5 1035.1L1659.8 1024.1L1661.0 1035.7L1662.2 1023.1L1663.5 1036.1L1664.8 1027.1L1666.0 1036.6L1667.2 1025.0L1668.5 1037.0L1669.8 1027.2L1671.0 1037.5L1672.2 1026.7L1673.5 1037.5L1674.8 1022.1L1676.0 1037.5L1677.2 1022.0L1678.5 1037.5L1679.8 1024.2L1681.0 1037.5M1330.5 947.1L1331.8 947.5L1333.0 957.0L1334.2 950.4L1335.5 956.3L1336.8 947.8L1338.0 953.4L1339.2 949.0L1340.5 959.2L1341.8 954.2L1343.0 961.7L1344.2 958.4L1345.5 962.3L1346.8 955.9L1348.0 960.7L1349.2 955.2L1350.5 959.2L1351.8 954.8L1353.0 956.7L1354.2 952.4L1355.5 954.3L1356.8 948.6L1358.0 953.2L1359.2 952.1L1360.5 957.0L1361.8 948.3L1363.0 952.5L1364.2 942.4L1365.5 947.9L1366.8 943.6L1368.0 950.7L1369.2 944.9L1370.5 954.5L1371.8 944.1L1373.0 949.6L1374.2 939.4L1375.5 945.5L1376.8 943.2L1378.0 950.6L1379.2 948.9L1380.5 952.0L1381.8 941.5M1304.5 917.7L1305.7 943.4L1306.9 994.4L1308.1 944.9L1309.3 966.4L1310.5 950.9L1311.7 980.6L1312.9 933.7L1314.1 958.0L1315.3 941.2L1316.5 954.2L1317.7 944.9L1318.9 933.2L1320.1 935.3L1321.3 925.7M999 1156.3L999.8 1137L1000.6 1156.3M1003 1173.8L1003.8 1150L1004.6 1173.8M1006 1167.7L1006.8 1140L1007.6 1167.7M1009.8 1164.7L1010.6 1137L1011.4 1164.7M1012 1156.2L1012.8 1133.7L1013.6 1156.2M1022.7 1123.7L1023.5 1092.8L1024.3 1123.7M1026.4 1151.3L1027.2 1131.6L1028.0 1151.3M1029.8 1157.3L1030.6 1131.6L1031.4 1157.3M1035.7 1147.6L1036.5 1127.3L1037.3 1147.6M1466.7 909.4L1467.5 811.6L1468.3 909.4M1071.9 803.3L1072.7 767.7L1073.5 803.3M1069.4 868.9L1070.2 790L1071.0 868.9M1079.8 954.8L1080.6 933L1081.4 954.8" stroke="#ff0000" stroke-width="2.08" fill="none" stroke-linejoin="round"/>
<path d="M839.4 514.2L841.4 586.8L843.3 564.0L846.2 584.0L847.9 595.4L852.7 584.0L855.6 618.1L858.4 612.4L861.3 643.8L862.7 632.4L865.6 672.2L868.4 640.9L869.8 672.2L871.3 565.5L873.5 660.8L875.5 717.8L877.5 689.3L878.4 729.2L880.4 668.0" stroke="#ff0000" stroke-width="4.96" fill="none" stroke-linejoin="round" transform="translate(0 -2.5)"/>
<path d="M839.4 514.2L841.4 586.8L843.3 564.0L846.2 584.0L847.9 595.4L852.7 584.0L855.6 618.1L858.4 612.4L861.3 643.8L862.7 632.4L865.6 672.2L868.4 640.9L869.8 672.2L871.3 565.5L873.5 660.8L875.5 717.8L877.5 689.3L878.4 729.2L880.4 668.0" stroke="#000" stroke-width="4.96" fill="none" stroke-linejoin="round"/>
<path d="M1301.3 806.9L1303.8 885.0L1304.4 916.7L1305.6 946.2L1306.8 1002.9L1307.7 940.3L1308.9 976.9L1310.1 949.8L1311.5 992.2L1312.5 941.5L1313.9 960.4L1315.7 952.1L1317.4 959.8L1319.2 929.7L1320.4 952.1" stroke="#ff0000" stroke-width="4.08" fill="none" stroke-linejoin="round" transform="translate(0 -2.5)"/>
<path d="M1301.3 806.9L1303.8 885.0L1304.4 916.7L1305.6 946.2L1306.8 1002.9L1307.7 940.3L1308.9 976.9L1310.1 949.8L1311.5 992.2L1312.5 941.5L1313.9 960.4L1315.7 952.1L1317.4 959.8L1319.2 929.7L1320.4 952.1" stroke="#000" stroke-width="4.08" fill="none" stroke-linejoin="round"/>
<path d="M1042.1 1059.5L1044.9 1020.7L1046.4 1063.8L1048.6 1078.8L1049.7 1055.1L1051.8 1035.8" stroke="#ff0000" stroke-width="3.28" fill="none" stroke-linejoin="round" transform="translate(0 -2.5)"/>
<path d="M1042.1 1059.5L1044.9 1020.7L1046.4 1063.8L1048.6 1078.8L1049.7 1055.1L1051.8 1035.8" stroke="#000" stroke-width="3.28" fill="none" stroke-linejoin="round"/>
<path d="M1682.9 1001.9L1684.2 964.0L1685.6 985.6L1686.9 1065.5L1687.9 997.8L1689.2 1001.9L1691.0 1047.9L1691.9 991.0L1693.3 980.2L1695.0 1054.7L1696.7 988.3L1698.3 940.9L1700.1 950.4L1701.4 912.5L1702.8 966.7L1704.1 1020.8L1706.4 1043.8L1708.6 1065.5L1710.5 1037.1L1711.8 1047.9L1713.6 1008.6L1715.6 961.2" stroke="#ff0000" stroke-width="4.08" fill="none" stroke-linejoin="round" transform="translate(0 -2.5)"/>
<path d="M1682.9 1001.9L1684.2 964.0L1685.6 985.6L1686.9 1065.5L1687.9 997.8L1689.2 1001.9L1691.0 1047.9L1691.9 991.0L1693.3 980.2L1695.0 1054.7L1696.7 988.3L1698.3 940.9L1700.1 950.4L1701.4 912.5L1702.8 966.7L1704.1 1020.8L1706.4 1043.8L1708.6 1065.5L1710.5 1037.1L1711.8 1047.9L1713.6 1008.6L1715.6 961.2" stroke="#000" stroke-width="4.08" fill="none" stroke-linejoin="round"/>
<path d="M1545.3 747.0L1547.4 734.4L1548.8 778.9L1549.4 806.7L1550.6 751.1L1551.5 772.0L1553.6 741.4L1555.0 778.9L1555.7 840.0" stroke="#ff0000" stroke-width="3.28" fill="none" stroke-linejoin="round" transform="translate(0 -2.5)"/>
<path d="M1545.3 747.0L1547.4 734.4L1548.8 778.9L1549.4 806.7L1550.6 751.1L1551.5 772.0L1553.6 741.4L1555.0 778.9L1555.7 840.0" stroke="#000" stroke-width="3.28" fill="none" stroke-linejoin="round"/>
<path d="M1464.9 780.0L1465.8 830.6L1467.6 984.2L1469.1 951.6L1470.4 1027.5L1471.6 973.3L1473.1 960.7L1474.9 964.3L1476.3 1009.5L1477.6 960.7L1478.8 935.4L1480.3 962.5L1481.7 843.2L1483.0 899.2L1484.8 836.0L1486.1 901.0L1487.2 857.7L1487.9 917.3" stroke="#ff0000" stroke-width="3.28" fill="none" stroke-linejoin="round" transform="translate(0 -2.5)"/>
<path d="M1464.9 780.0L1465.8 830.6L1467.6 984.2L1469.1 951.6L1470.4 1027.5L1471.6 973.3L1473.1 960.7L1474.9 964.3L1476.3 1009.5L1477.6 960.7L1478.8 935.4L1480.3 962.5L1481.7 843.2L1483.0 899.2L1484.8 836.0L1486.1 901.0L1487.2 857.7L1487.9 917.3" stroke="#000" stroke-width="3.28" fill="none" stroke-linejoin="round"/>
<path d="M270.0 112.8L270.7 112.1L271.4 114.4L272.1 111.3L272.8 113.7L273.5 111.6L274.2 113.9L274.9 111.4L275.6 114.3L276.3 112.1L277.0 113.4L277.7 111.2L278.4 113.9L279.1 111.3L279.8 113.3L280.5 111.7L281.2 114.2L281.9 112.0L282.7 114.5L283.4 111.1L284.1 113.4L284.8 112.2L285.5 113.0L286.2 112.5L286.9 113.0L287.6 112.7L288.3 113.0L289.0 112.7L289.7 112.9L290.4 112.6L291.1 113.0L291.8 112.7L292.5 112.9L293.2 112.7L293.9 112.8L294.6 114.4L295.3 115.4L296.0 117.0L296.7 118.1L297.4 119.9L298.1 121.1L299.0 131.1L299.9 141.6L300.8 151.7L301.5 161.8L302.2 172.7L302.9 182.8L303.6 193.3L304.5 207.3L305.5 220.9L306.4 235.0L307.1 248.4L307.8 261.4L308.6 262.0L309.2 287.8L309.9 295.8L310.6 304.4L311.9 332.2L312.6 337.9L313.3 343.1L314.0 349.1L314.7 354.4L315.4 359.2L316.1 364.2L317.5 360.0L318.3 373.5L319.2 386.4L320.0 400.0L320.7 409.5L321.4 418.4L322.1 427.8L323.1 430.7L324.2 433.3L325.1 435.1L326.0 437.2L326.9 438.9L327.6 443.2L328.3 447.9L329.4 442.2L330.4 436.1L331.1 438.1L331.8 442.9L332.5 444.4L333.2 439.0L333.9 437.9L334.6 432.6L335.5 432.3L336.3 434.0L337.2 444.5L338.1 452.8L339.0 457.9L339.9 466.8L340.8 471.5L341.5 472.9L342.2 477.7L342.9 478.1L343.6 481.9L344.4 485.1L345.3 486.6L346.1 491.2L347.0 490.7L347.8 495.1L348.9 493.6L349.9 489.6L350.8 490.4L351.7 494.0L352.6 495.1L354.0 481.3L354.9 475.2L355.8 471.5L356.8 479.2L357.6 477.0L358.4 469.8L359.2 467.4L359.9 467.5L360.6 463.4L361.3 463.9L362.1 467.0L363.0 467.3L363.8 470.8L364.6 462.4L365.4 449.2L366.2 440.3L367.0 449.1L367.9 455.6L368.6 450.6L369.3 448.5L370.0 443.1L370.9 419.8L371.7 400.0L372.3 308.2L373.5 425.7L374.2 424.6L374.9 420.9L375.6 420.8L376.9 428.5L377.6 427.8L378.3 422.3L379.0 423.1L379.7 419.4L380.5 418.1L381.4 421.1L382.2 420.1L383.2 434.0L383.9 428.6L384.6 425.7L385.4 427.6L386.1 426.8L386.9 429.9L387.6 427.8L388.4 429.9L389.1 438.2L389.9 445.0L390.0 441.7L390.8 447.3L391.6 455.3L392.6 448.7L393.5 439.7L394.3 440.0L395.0 443.3L395.8 443.6L396.6 461.8L397.4 482.5L398.7 457.2L399.4 478.9L400.1 498.0L400.9 484.7L401.8 475.2L402.6 462.1L404.0 474.7L404.8 464.2L405.6 455.6L406.3 444.1L407.1 434.9L407.9 434.5L408.6 430.0L409.4 430.0L410.4 439.3L411.4 445.6L412.2 435.1L413.0 429.2L413.7 417.9L414.5 411.4L415.3 400.8L416.2 406.2L417.2 414.4L417.9 418.2L418.6 420.2L419.4 424.5L420.1 427.1L421.1 416.9L422.1 409.6L423.1 417.4L423.9 412.4L424.6 405.1L425.4 399.9L426.2 406.7L427.1 409.9L427.9 416.4L428.6 417.5L429.4 416.6L430.1 419.0L430.8 418.3L431.8 409.8L432.8 402.8L433.6 406.9L434.3 407.8L435.1 412.5L435.9 416.5L436.7 418.3L437.5 421.1L438.4 426.8L439.2 428.8L440.1 434.1L440.9 436.8L441.7 432.3L442.5 430.8L443.3 425.9L444.1 423.2L444.9 426.5L445.6 425.3L446.4 428.1L447.1 428.4L447.9 425.8L448.6 428.2L449.3 426.1L450.2 428.0L451.2 431.0L452.1 423.8L452.9 414.7L453.8 409.1L454.6 399.9L455.4 397.5L456.3 398.1L457.1 395.0L458.4 400.8L459.3 409.8L460.1 422.8L461.0 431.9L461.9 426.2L462.9 422.2L463.9 422.0L464.9 418.3L465.9 425.5L466.8 435.8L467.8 433.1L468.7 428.1L469.6 422.4L470.4 419.7L471.3 413.5L472.2 419.6L473.1 429.0L474.0 434.9L474.8 428.4L475.7 425.2L476.5 418.3L477.3 407.0L478.1 397.9L479.0 384.5L479.8 375.6L480.8 388.9L481.8 398.9L482.9 391.1L483.9 403.3L484.9 417.4L485.9 405.4L486.8 390.1L487.8 400.4L488.8 412.5L489.6 400.8L490.7 422.2L491.4 407.4L492.1 389.2L492.8 396.0L493.6 406.8L494.3 413.1L495.0 422.2L495.8 437.4L496.6 451.4L497.9 427.1L498.9 429.8L499.9 435.8L500.9 464.6L501.8 492.2L503.2 476.7L503.9 486.3L504.7 499.0L505.7 478.9L506.7 455.3L507.6 484.6L508.6 516.5L509.0 516.0L509.7 493.8L510.4 468.4L511.1 448.8L511.8 424.0L512.6 417.8L513.4 415.7L514.2 409.8L515.3 486.5L516.1 458.2L516.9 498.5L517.7 540.8L518.5 525.3L519.3 507.0L520.1 491.3L520.9 539.9L521.7 585.7L523.1 522.0L524.3 616.4L525.1 579.9L526.0 545.6L527.0 562.3L527.9 577.4L528.7 511.2L529.5 446.4L530.3 463.5L531.1 477.0L531.9 493.6L532.7 477.5L533.4 458.1L534.2 441.7L535.0 453.6L535.8 460.5L536.6 472.4L537.5 434.0L538.3 394.5L539.2 366.0L540.1 339.0L540.9 336.8L541.7 330.9L542.5 329.5L543.2 349.9L543.9 366.3L544.6 387.0L545.3 403.7L546.0 424.0L546.9 413.2L547.7 399.2L548.5 430.5L549.2 466.3L550.0 496.7L550.8 531.4L551.6 491.5L552.4 448.8L553.2 463.4L554.0 482.0L554.8 496.0L555.6 454.4L556.3 416.0L557.1 373.1L557.9 333.0L558.7 359.8L559.4 383.3L560.2 411.0L561.0 387.6L561.9 362.6L562.7 378.0L563.4 397.7L564.2 413.3L565.1 445.2L565.9 481.2L566.8 513.7L567.6 488.5L568.5 465.3L569.2 439.7L569.9 410.7L570.6 387.2L571.3 357.7L572.0 333.0L572.8 356.7L573.6 376.4L574.4 399.2L575.2 383.3L576.0 365.0L577.0 376.1L577.9 388.5L578.8 366.1L579.8 342.5L580.6 374.3L581.5 407.4L582.3 376.8L583.0 341.3L583.8 310.6L584.6 332.3L585.4 349.8L586.2 370.8L587.0 343.8L587.8 314.2L588.4 346.7L589.4 307.7L590.4 271.8L591.3 309.5L592.2 345.1L593.2 366.8L594.1 391.0L595.3 332.9L596.0 358.9L596.8 317.6L598.0 265.7L598.8 285.6L599.5 270.4L600.2 253.5L601.2 267.4L602.2 282.5L602.9 256.5L603.7 252.3L604.4 244.7L605.2 241.3L606.0 244.1L606.7 244.3L607.5 273.1L608.3 305.4L609.0 310.0L609.8 312.3L610.5 285.8L611.3 261.1L612.4 258.1L613.1 247.4L613.9 233.6L614.6 233.6L615.4 236.7L616.4 249.5L617.4 261.1L618.4 267.4L619.4 276.4L620.3 258.7L621.3 239.7L622.2 254.3L623.1 270.3L623.9 250.4L624.6 280.4L625.4 307.0L626.6 288.6L627.6 293.4L628.6 299.3L629.3 290.5L630.0 278.2L630.7 270.3L631.5 285.1L632.3 297.8L633.2 289.9L634.2 283.3L635.0 290.2L635.8 295.5L636.5 285.1L637.3 277.9L638.0 266.2L638.8 257.3L639.8 265.5L640.8 270.3L641.7 275.8L642.6 283.3L643.4 272.1L644.2 257.3L645.1 243.1L646.0 233.3L646.9 219.9L647.6 219.8L648.4 221.4L649.3 225.6L650.3 227.5L651.0 261.2L651.8 296.3L653.0 270.3L653.6 303.9L654.4 292.3L655.2 277.9L656.0 286.5L656.7 296.3L657.9 282.5L658.8 273.9L659.8 264.2L660.7 277.7L661.6 295.6L662.5 310.0L663.3 294.4L664.0 282.6L664.8 267.2L665.6 274.4L666.3 284.2L667.1 291.7L668.0 279.7L668.9 271.0L669.9 280.1L670.9 285.6L671.8 295.5L672.6 309.7L673.5 320.7L674.5 308.4L675.5 297.8L676.5 294.9L677.5 289.4L678.4 292.6L679.3 299.3L680.0 292.1L680.8 282.5L681.6 273.0L682.3 267.6L683.1 258.1L683.9 266.6L684.6 278.1L685.4 286.3L686.2 276.6L687.0 269.6L687.7 259.3L688.5 251.2L689.4 253.4L690.3 252.0L691.2 255.0L692.0 261.5L692.8 265.7L693.8 288.6L694.9 281.0L695.8 311.7L696.7 346.5L697.6 377.2L698.4 398.6L699.2 378.1L700.6 425.6L701.3 437.9L702.0 454.8L702.7 467.8L703.6 451.0L704.5 436.1L705.5 450.3L706.4 462.5L707.1 425.5L707.8 392.0L708.5 354.3L709.3 349.0L710.0 348.0L710.8 342.5L711.6 339.8L712.4 402.4L713.2 462.5L714.2 445.4L715.1 430.8L716.0 463.8L716.8 493.4L717.7 525.9L719.0 507.4L719.7 522.9L720.4 536.5L721.1 552.3L722.2 573.4L723.2 551.6L724.3 528.5L725.1 557.5L726.4 502.1L727.3 515.8L728.2 532.7L729.1 547.0L730.0 599.1L730.9 652.5L731.7 581.3L732.5 603.1L733.3 621.3L734.1 644.2L734.9 663.1L735.6 640.8L736.3 622.5L737.0 599.8L737.9 617.5L738.8 636.7L739.8 618.1L740.7 597.1L741.8 557.3L742.8 520.6L743.5 513.3L744.2 503.0L744.9 496.8L745.8 530.6L746.7 562.8L747.7 589.0L748.6 618.2L749.5 649.2L750.4 676.7L751.8 667.0L752.5 707.1L753.2 750.3L753.9 678.0L755.0 693.3L756.4 635.7L757.4 705.1L758.8 655.8L759.7 687.8L760.8 672.5L761.5 694.3L762.2 714.2L763.2 685.7L764.3 658.6L765.3 698.9L766.1 680.7L767.0 658.3L767.8 640.6L768.5 662.8L769.2 681.5L769.9 704.4L770.8 675.1L771.7 642.6L772.6 614.2L774.0 576.7L774.8 554.0L775.5 529.2L776.3 508.6L777.1 483.6L778.0 482.9L778.8 487.1L779.7 486.3L781.1 531.1L782.0 521.6L782.9 515.3L783.7 537.9L784.5 557.5L785.4 521.8L786.3 488.9L787.2 476.5L788.2 462.5L789.0 510.0L789.7 489.6L790.4 472.1L791.1 452.0L792.1 475.7L792.8 453.2L793.5 434.9L794.2 412.4L795.2 460.3L796.1 510.0L796.9 494.8L797.7 478.4L798.7 517.4L799.7 560.0L801.1 593.3L802.5 626.7L803.2 655.8L804.6 629.4L805.5 661.2L806.4 689.9L807.2 666.1L808.1 644.7L809.4 621.1L810.6 673.9L811.5 662.8L812.9 679.4L813.6 636.4L815.0 671.1L816.4 609.3L817.1 619.1L817.8 624.8L818.5 635.0L819.2 527.0L820.6 618.3L821.4 613.9L822.2 607.2L822.9 655.8L823.8 640.2L824.7 626.7L825.8 613.1L826.8 597.5L827.5 584.1L828.2 573.1L828.9 560.0L829.6 562.1L830.3 568.0L831.0 569.2L831.7 573.9L832.7 559.6L833.7 544.1L834.7 526.8L835.7 511.4L836.7 534.2L837.7 555.5L838.5 533.9L839.4 514.2L840.4 551.6L841.4 586.8L842.3 573.3L843.3 564.0L844.0 570.4L844.8 572.6L845.5 580.7L846.2 584.0L847.0 588.6L847.9 595.4L848.7 594.2L849.5 590.0L850.3 591.2L851.1 586.0L851.9 587.3L852.7 584.0L853.4 590.7L854.2 603.0L854.9 608.5L855.6 618.1L856.5 617.7L857.5 612.8L858.4 612.4L859.1 621.3L859.8 626.7L860.6 637.6L861.3 643.8L862.0 635.9L862.7 632.4L863.4 644.6L864.2 651.1L864.9 664.0L865.6 672.2L866.5 661.0L867.5 652.2L868.4 640.9L869.8 672.2L870.5 617.3L871.3 565.5L872.0 599.4L872.8 628.1L873.5 660.8L874.5 691.3L875.5 717.8L876.5 701.4L877.5 689.3L878.4 729.2L879.4 699.8L880.4 668.0L881.2 740.9L882.1 817.5L883.2 746.3L884.0 727.5L884.7 704.4L885.5 685.0L886.9 769.0L887.8 702.1L888.5 733.8L889.2 761.1L889.9 794.1L890.6 823.1L891.8 860.2L892.5 856.7L893.3 858.1L894.0 854.5L894.6 883.0L895.4 854.7L896.1 831.1L896.9 803.2L897.6 782.5L898.3 764.2L899.0 742.6L899.8 724.7L900.5 703.3L901.2 683.6L902.0 670.6L902.9 657.2L903.7 644.5L904.6 631.1L905.4 618.1L906.1 608.3L906.8 598.1L907.6 588.5L908.3 578.3L909.0 574.9L909.7 571.9L910.4 568.1L911.1 565.2L911.8 561.5L912.5 558.3L913.2 560.7L914.0 562.3L914.7 564.9L915.4 566.9L916.1 571.9L916.8 577.6L917.5 582.3L918.3 588.0L919.0 592.8L919.7 598.2L920.6 601.3L921.6 603.6L922.5 606.7L923.2 607.6L924.0 607.9L924.7 609.0L925.4 609.6L926.2 612.8L926.9 616.4L927.7 619.5L928.5 623.3L929.2 626.1L930.0 629.7L931.0 631.8L931.9 633.6L932.7 636.9L933.5 640.8L934.2 644.0L935.0 647.7L935.8 651.1L936.5 659.7L937.2 668.8L938.0 677.3L938.7 686.1L939.5 689.1L940.2 691.8L941.0 695.0L941.7 697.8L942.4 704.4L943.2 711.6L943.9 718.0L944.6 725.0L945.4 727.1L946.2 728.7L946.9 731.0L947.7 731.9L948.5 734.7L949.5 740.8L950.4 744.4L951.2 748.7L952.1 756.2L952.9 760.0L954.3 747.4L955.3 758.0L956.6 738.6L957.4 749.7L958.2 763.9L959.2 773.6L960.2 772.3L961.1 767.8L961.9 789.3L962.7 814.4L963.4 847.5L964.3 850.0L965.1 848.9L966.0 851.4L966.8 790.3L967.5 726.0L967.9 882.5L968.9 870.3L969.9 861.1L970.6 865.2L971.3 868.7L972.1 872.9L972.8 876.7L973.8 881.4L974.7 886.4L975.7 891.5L976.7 896.1L977.5 905.6L978.2 915.6L979.0 924.8L979.7 934.6L980.5 951.0L981.3 966.7L982.1 983.3L982.9 999.2L983.6 1020.6L984.4 1042.4L985.1 1063.8L986.0 1085.8L986.8 1108.4L987.7 1130.5L988.6 1133.9L989.6 1137.8L990.5 1141.3L991.2 1146.9L991.9 1152.8L992.6 1158.5L993.4 1151.0L994.1 1145.6L995.0 1149.9L995.8 1152.0L996.5 1148.9L997.3 1148.8L998.0 1145.6L998.8 1151.0L999.6 1161.0L1000.4 1165.4L1001.2 1173.5L1001.9 1174.2L1002.7 1171.1L1003.4 1171.4L1004.1 1169.3L1004.8 1165.1L1005.5 1162.8L1006.2 1168.0L1007.0 1171.4L1007.9 1162.6L1008.8 1156.3L1009.6 1163.4L1010.5 1167.1L1011.2 1159.1L1012.0 1154.2L1012.8 1154.8L1013.6 1151.3L1014.4 1153.7L1015.2 1152.0L1016.1 1153.6L1016.9 1159.5L1017.8 1161.7L1018.6 1148.2L1019.4 1139.4L1020.1 1124.6L1020.9 1114.2L1021.7 1101.4L1022.6 1117.7L1023.4 1137.8L1024.3 1154.2L1025.2 1151.0L1026.2 1150.4L1027.1 1147.7L1027.8 1149.5L1028.5 1154.5L1029.2 1156.3L1030.0 1153.9L1030.8 1155.2L1031.6 1151.0L1032.4 1150.9L1033.2 1151.0L1034.1 1146.6L1034.9 1148.4L1035.7 1145.6L1036.5 1145.0L1037.3 1148.1L1038.1 1145.8L1038.9 1147.7L1039.7 1127.0L1040.5 1101.9L1041.3 1082.9L1042.1 1059.5L1042.8 1048.1L1043.5 1041.8L1044.2 1028.2L1044.9 1020.7L1045.7 1044.2L1046.4 1063.8L1047.1 1066.7L1047.9 1075.8L1048.6 1078.8L1049.7 1055.1L1050.8 1043.4L1051.8 1035.8L1052.5 1032.5L1053.2 1024.5L1053.9 1021.8L1054.7 1013.8L1055.4 1012.8L1056.1 1005.6L1056.8 987.9L1057.6 973.3L1058.3 956.1L1059.2 904.8L1060.2 856.7L1061.0 900.1L1061.7 941.2L1063.1 850.8L1063.8 882.7L1064.5 917.5L1065.2 950.0L1066.1 873.0L1066.9 798.3L1068.0 846.5L1069.0 891.7L1069.8 842.1L1070.5 827.4L1071.2 815.9L1071.9 801.3L1073.3 941.2L1074.1 963.2L1074.9 988.5L1075.7 1011.3L1076.8 1027.3L1077.6 996.5L1078.4 969.7L1079.2 938.3L1080.0 955.4L1080.7 976.3L1081.5 993.8L1082.2 958.1L1083.0 926.6L1083.7 890.2L1084.4 856.7L1085.5 832.7L1086.5 807.1L1087.2 815.6L1087.9 827.5L1089.0 850.0L1089.4 615.6L1089.6 850.8L1090.5 837.1L1091.4 821.7L1092.2 800.6L1092.9 782.4L1093.7 760.4L1094.5 765.1L1095.2 772.1L1095.9 776.0L1096.7 776.8L1097.4 782.3L1098.1 783.8L1098.8 802.7L1099.5 824.5L1100.3 841.4L1101.0 862.5L1102.0 890.3L1103.1 915.0L1104.2 987.9L1105.1 968.1L1106.0 950.0L1106.8 922.2L1107.7 891.7L1108.5 880.6L1109.2 872.5L1110.0 860.3L1110.7 850.8L1111.6 899.0L1112.4 944.2L1113.3 1041.7L1114.2 1139.6L1114.9 1140.5L1115.7 1140.9L1116.4 1142.0L1117.1 1142.5L1117.8 1112.8L1118.5 1083.8L1119.2 1054.0L1119.9 1024.9L1120.6 995.2L1121.4 996.5L1122.1 998.3L1122.9 999.6L1123.7 1013.5L1124.4 1028.0L1125.2 1041.9L1126.0 1011.7L1126.8 982.7L1127.6 951.9L1128.3 906.6L1129.0 864.7L1129.7 820.0L1131.1 861.7L1131.8 812.5L1132.5 767.9L1133.2 719.3L1134.0 695.0L1134.8 675.6L1135.6 651.6L1136.7 681.1L1137.5 657.7L1138.4 637.7L1139.2 613.5L1140.1 592.6L1140.9 602.0L1141.8 609.2L1142.6 618.6L1143.4 663.4L1144.3 705.4L1145.2 690.5L1146.0 677.6L1146.9 699.9L1147.8 719.3L1148.7 673.3L1149.5 629.0L1150.3 657.1L1151.1 680.8L1151.9 708.9L1152.8 746.9L1153.8 782.3L1154.7 820.0L1155.6 864.4L1156.5 906.8L1157.3 980.3L1158.2 1056.1L1159.1 1015.1L1159.9 972.8L1160.6 974.1L1161.3 977.6L1162.0 977.7L1162.7 982.8L1163.4 983.2L1164.1 981.9L1164.9 982.8L1165.6 980.3L1166.4 982.8L1167.1 978.9L1167.9 981.5L1168.6 979.7L1169.3 975.8L1170.1 975.4L1170.8 970.1L1171.6 969.2L1172.3 964.2L1173.1 962.9L1173.8 958.9L1174.6 960.0L1175.5 964.5L1176.3 965.8L1177.3 1007.5L1178.2 989.4L1179.0 972.8L1179.7 972.6L1180.5 969.2L1181.2 970.9L1182.0 967.5L1182.7 968.6L1183.5 965.4L1184.2 965.8L1184.9 965.4L1185.6 961.8L1186.3 963.3L1187.0 958.5L1187.7 958.9L1188.4 949.1L1189.1 936.5L1189.8 929.3L1190.5 916.3L1191.2 906.8L1192.0 890.5L1192.8 870.8L1193.6 854.7L1194.3 849.5L1195.0 839.8L1195.7 833.9L1196.5 869.1L1197.3 899.5L1198.1 934.6L1199.0 902.3L1199.9 868.6L1200.8 902.5L1201.6 939.8L1202.4 863.1L1203.3 785.3L1204.2 768.4L1205.2 754.3L1206.1 736.7L1206.8 756.9L1207.5 778.3L1208.4 729.0L1209.4 676.9L1210.3 627.3L1211.2 698.5L1212.2 765.8L1213.1 837.4L1213.9 802.0L1214.7 762.7L1215.5 726.3L1216.3 766.6L1217.2 804.1L1218.0 845.9L1218.8 885.0L1219.6 860.7L1220.3 838.8L1221.1 814.1L1221.9 791.3L1222.6 750.2L1223.4 706.6L1224.1 666.3L1224.8 627.1L1225.6 583.6L1226.3 544.4L1227.1 565.8L1228.0 582.6L1228.8 603.8L1229.6 662.2L1230.3 717.3L1231.1 777.8L1231.9 833.4L1232.7 780.9L1233.5 731.9L1234.2 679.3L1235.0 628.8L1235.8 657.1L1236.5 680.6L1237.3 709.4L1238.1 735.0L1238.9 779.4L1239.7 827.6L1240.5 870.9L1241.3 917.8L1242.1 910.6L1243.0 901.2L1243.8 894.4L1244.5 903.0L1245.3 908.6L1246.0 918.5L1246.8 923.3L1247.5 931.9L1248.3 909.8L1249.0 883.6L1249.8 863.0L1250.6 838.1L1251.4 810.9L1252.2 788.0L1253.0 759.9L1253.8 735.0L1254.6 744.1L1255.5 748.9L1256.3 756.9L1257.0 820.1L1257.7 878.2L1258.4 941.3L1259.2 874.2L1260.0 803.2L1260.8 735.7L1261.6 666.3L1262.3 625.1L1263.1 588.2L1263.8 547.5L1264.6 556.9L1265.5 570.1L1266.3 578.8L1267.0 606.3L1267.7 636.2L1268.4 663.1L1269.2 621.4L1270.1 582.6L1270.9 541.3L1271.7 551.7L1272.6 565.6L1273.4 575.6L1274.1 560.7L1274.8 549.6L1275.6 534.6L1276.3 522.5L1277.1 545.7L1277.9 566.0L1278.7 590.6L1279.5 611.9L1280.3 635.0L1281.1 672.7L1281.8 707.0L1282.6 746.1L1283.4 781.9L1284.2 753.1L1285.0 727.2L1285.8 696.0L1286.6 669.4L1287.4 675.7L1288.2 677.8L1288.9 684.5L1289.7 688.1L1290.5 723.2L1291.3 760.0L1292.0 736.2L1292.8 710.0L1293.6 727.8L1294.3 748.5L1295.1 764.7L1295.9 785.0L1296.7 786.0L1297.5 782.2L1298.3 783.3L1299.1 781.9L1299.8 788.9L1300.6 800.0L1301.3 806.9L1302.1 830.6L1303.0 860.8L1303.8 885.0L1304.4 916.7L1305.6 946.2L1306.8 1002.9L1307.7 940.3L1308.9 976.9L1310.1 949.8L1310.8 968.9L1311.5 992.2L1312.5 941.5L1313.2 952.8L1313.9 960.4L1314.8 954.7L1315.7 952.1L1316.6 958.1L1317.4 959.8L1318.3 942.7L1319.2 929.7L1320.4 952.1L1321.1 933.2L1321.8 911.0L1322.6 893.0L1323.3 871.9L1324.2 873.7L1325.1 877.8L1326.3 908.5L1327.3 891.4L1328.3 873.0L1329.0 905.7L1329.8 940.3L1330.7 951.5L1331.5 960.1L1332.8 957.8L1334.0 962.8L1335.2 957.1L1336.5 960.1L1337.8 953.0L1339.0 959.6L1340.2 959.7L1341.5 965.4L1342.8 962.2L1344.0 966.9L1345.2 963.6L1346.5 965.4L1347.8 959.9L1349.0 964.4L1350.2 959.6L1351.5 963.1L1352.8 958.2L1354.0 960.2L1355.2 955.4L1356.5 957.0L1357.8 953.7L1359.0 960.8L1360.2 956.6L1361.5 959.4L1362.8 954.1L1364.0 954.8L1365.2 949.8L1366.5 952.7L1367.8 949.4L1369.0 955.9L1370.2 953.9L1371.5 957.1L1372.8 950.7L1374.0 952.4L1375.2 944.8L1376.5 951.8L1377.8 949.6L1379.0 957.0L1380.2 954.2L1381.5 950.7L1382.5 944.9L1383.5 940.3L1384.3 925.9L1385.2 907.1L1386.0 893.5L1386.8 876.6L1387.7 891.0L1388.5 908.3L1389.4 922.6L1390.6 946.2L1391.5 1001.7L1392.2 973.0L1393.0 946.2L1393.7 950.0L1394.4 949.7L1395.1 954.5L1395.8 954.9L1396.5 958.0L1397.3 962.9L1398.1 963.4L1398.9 967.5L1399.7 966.1L1400.4 962.1L1401.2 960.4L1401.9 962.5L1402.7 959.8L1403.4 963.0L1404.2 959.8L1404.9 963.6L1405.6 960.6L1406.4 964.1L1407.1 962.7L1407.8 961.5L1408.6 965.3L1409.3 963.6L1410.0 966.0L1410.8 964.1L1411.5 967.6L1412.3 964.8L1413.0 966.9L1413.7 968.5L1414.5 965.7L1415.2 968.3L1416.0 965.8L1416.7 969.0L1417.4 966.8L1418.2 969.1L1418.9 968.1L1419.7 966.3L1420.5 969.3L1421.2 967.3L1422.0 968.8L1422.8 966.7L1423.6 968.1L1424.3 968.5L1425.0 964.7L1425.8 966.4L1426.5 963.7L1427.2 963.9L1427.9 962.4L1428.7 957.4L1429.4 955.7L1430.1 952.1L1431.0 947.9L1431.9 946.2L1432.5 930.0L1433.2 650.0L1434.4 837.5L1435.3 866.5L1436.2 893.7L1437.2 911.8L1438.1 931.2L1438.9 916.3L1439.6 901.0L1440.4 886.4L1441.1 871.1L1441.9 856.2L1442.6 841.3L1443.4 826.0L1444.1 811.4L1444.9 796.1L1445.6 781.2L1446.3 770.7L1447.0 759.7L1447.7 749.2L1448.4 738.1L1449.1 727.8L1449.8 716.8L1450.5 706.2L1451.2 687.7L1452.0 668.5L1452.7 650.2L1453.5 631.0L1454.2 612.5L1455.1 598.9L1456.0 584.8L1456.9 571.2L1457.6 578.1L1458.4 584.5L1459.1 591.7L1459.9 598.0L1460.6 605.0L1461.3 634.4L1462.0 663.1L1462.8 692.6L1463.5 720.9L1464.2 752.8L1464.9 780.0L1465.8 830.6L1466.7 905.4L1467.6 984.2L1468.3 969.4L1469.1 951.6L1470.4 1027.5L1471.6 973.3L1472.3 965.5L1473.1 960.7L1474.0 963.9L1474.9 964.3L1476.3 1009.5L1477.6 960.7L1478.8 935.4L1479.5 946.8L1480.3 962.5L1481.0 904.9L1481.7 843.2L1483.0 899.2L1483.9 865.9L1484.8 836.0L1486.1 901.0L1487.2 857.7L1487.9 917.3L1488.7 872.3L1489.4 823.7L1490.2 780.0L1491.0 734.0L1491.7 685.0L1492.5 638.7L1493.2 633.1L1494.0 624.2L1494.8 619.6L1495.5 612.5L1496.2 598.7L1497.0 587.2L1497.8 571.4L1498.5 561.4L1499.2 545.1L1500.0 533.7L1500.7 538.7L1501.5 540.0L1502.2 546.2L1503.0 547.5L1503.7 552.5L1504.5 560.3L1505.2 564.0L1506.0 573.9L1506.7 578.7L1507.5 570.8L1508.2 566.3L1509.0 557.2L1509.7 552.2L1510.5 543.2L1511.2 537.5L1512.0 544.0L1512.7 546.7L1513.5 555.0L1514.2 557.7L1515.0 563.7L1515.8 571.5L1516.6 574.8L1517.4 584.5L1518.2 588.2L1519.0 596.8L1519.8 601.2L1520.6 608.7L1521.4 604.3L1522.1 594.9L1522.9 591.8L1523.7 582.7L1524.4 580.0L1525.2 570.6L1525.9 567.1L1526.7 560.0L1527.6 572.2L1528.4 588.2L1529.3 600.0L1530.2 614.8L1531.0 633.1L1531.8 646.3L1532.7 663.3L1533.5 664.3L1534.2 662.2L1535.0 663.3L1535.8 670.3L1536.5 675.0L1537.3 683.3L1538.1 688.6L1538.8 677.6L1539.6 668.6L1540.3 656.5L1541.1 647.0L1541.8 646.3L1542.5 641.1L1543.2 640.0L1544.6 695.5L1545.3 747.0L1546.0 744.0L1546.7 736.3L1547.4 734.4L1548.8 778.9L1549.4 806.7L1550.6 751.1L1551.5 772.0L1552.5 757.8L1553.6 741.4L1554.3 758.6L1555.0 778.9L1555.7 840.0L1556.7 913.3L1557.5 921.4L1558.3 925.2L1559.2 934.4L1560.0 940.0L1560.9 951.8L1561.8 967.8L1562.7 980.0L1563.5 971.9L1564.3 967.8L1565.2 958.2L1566.0 953.3L1566.8 952.2L1567.7 947.6L1568.5 946.5L1569.3 943.3L1570.1 953.8L1570.9 968.6L1571.7 980.0L1572.6 988.2L1573.5 996.7L1574.8 990.5L1576.0 998.6L1577.2 993.0L1578.5 1000.0L1579.8 994.3L1581.0 1000.6L1582.2 994.3L1583.5 1001.8L1584.8 997.7L1586.0 1003.3L1587.2 998.2L1588.5 1003.7L1589.8 998.6L1591.0 1005.9L1592.2 1001.2L1593.5 1007.1L1594.8 1000.4L1596.0 1007.1L1597.2 1001.9L1598.5 1008.8L1599.8 1003.8L1601.0 1011.3L1602.2 1004.2L1603.5 1011.4L1604.8 1006.7L1606.0 1012.9L1607.2 1008.0L1608.5 1013.7L1609.8 1010.1L1611.0 1015.5L1612.2 1010.8L1613.5 1016.5L1614.8 1011.4L1616.0 1019.0L1617.2 1013.1L1618.5 1020.3L1619.8 1014.7L1621.0 1020.6L1622.2 1016.9L1623.5 1021.5L1624.8 1016.9L1626.0 1023.4L1627.2 1019.0L1628.5 1024.3L1629.8 1021.5L1631.0 1026.0L1632.2 1020.2L1633.5 1027.4L1634.8 1024.3L1636.0 1029.5L1637.2 1023.9L1638.5 1031.3L1639.8 1025.4L1641.0 1032.5L1642.2 1025.6L1643.5 1033.8L1644.8 1027.5L1646.0 1033.7L1647.2 1028.3L1648.5 1035.7L1649.8 1031.9L1651.0 1035.8L1652.2 1030.7L1653.5 1037.5L1654.8 1033.2L1656.0 1038.6L1657.2 1031.8L1658.5 1039.1L1659.8 1033.4L1661.0 1039.7L1662.2 1032.4L1663.5 1039.9L1664.8 1034.6L1666.0 1039.7L1667.2 1034.9L1668.5 1040.2L1669.8 1033.9L1671.0 1040.4L1672.2 1036.6L1673.5 1041.2L1674.8 1035.2L1676.0 1040.7L1677.2 1034.2L1678.5 1041.6L1679.8 1034.5L1681.0 1041.9L1682.0 1022.2L1682.9 1001.9L1684.2 964.0L1685.6 985.6L1686.9 1065.5L1687.9 997.8L1689.2 1001.9L1690.1 1023.4L1691.0 1047.9L1691.9 991.0L1693.3 980.2L1694.2 1019.7L1695.0 1054.7L1695.8 1020.1L1696.7 988.3L1697.5 966.5L1698.3 940.9L1699.2 943.6L1700.1 950.4L1701.4 912.5L1702.8 966.7L1704.1 1020.8L1704.9 1029.3L1705.6 1034.4L1706.4 1043.8L1707.1 1053.4L1707.9 1056.7L1708.6 1065.5L1709.5 1052.9L1710.5 1037.1L1711.8 1047.9L1712.7 1027.0L1713.6 1008.6L1714.6 987.2L1715.6 961.2L1716.4 932.4L1717.3 907.7L1718.1 880.0L1718.7 792.5L1719.7 777.3L1720.6 762.5L1721.5 730.8L1722.5 698.7L1723.5 676.0L1724.4 653.7L1725.3 635.1L1726.2 616.2L1727.0 622.1L1727.7 628.3L1728.5 633.1L1729.2 641.7L1730.0 646.2L1731.0 639.0L1731.9 635.0L1732.6 630.5L1733.4 621.6L1734.1 617.6L1734.9 610.0L1735.6 605.0L1736.5 600.7L1737.5 593.7L1738.5 592.8L1739.4 593.7L1740.3 582.4L1741.1 567.0L1742.0 556.2L1742.8 558.3L1743.5 557.4L1744.2 561.1L1745.0 561.9L1745.8 559.0L1746.5 559.8L1747.2 555.5L1748.0 554.4L1748.8 559.0L1749.5 560.2L1750.2 566.4L1751.0 566.3L1751.8 572.5L1752.5 575.0L1753.2 591.6L1754.0 612.3L1754.8 627.2L1755.5 646.2L1756.4 663.3L1757.2 677.2L1758.1 695.0L1758.9 676.5L1759.6 654.8L1760.4 637.1L1761.1 615.2L1761.9 597.5L1762.8 593.2L1763.7 586.2L1764.5 598.6L1765.2 616.1L1766.0 627.5L1766.7 642.5L1767.6 660.0L1768.5 673.9L1769.4 691.2L1770.1 684.5L1770.9 673.1L1771.6 667.3L1772.4 657.4L1773.1 650.0L1774.0 655.2L1775.0 657.5L1775.7 649.7L1776.5 644.7L1777.2 636.4L1778.0 631.7L1778.7 623.7L1779.5 614.9L1780.2 610.4L1781.0 600.0L1781.7 593.7L1782.6 600.0L1783.5 603.0L1784.4 608.7L1785.3 603.5L1786.1 595.3L1787.0 590.0L1787.8 601.7L1788.5 610.5L1789.2 601.9L1789.9 595.0L1790.7 587.4L1791.4 577.1L1792.2 569.7L1793.0 581.5L1793.7 591.1L1794.7 594.0L1795.7 598.9L1796.4 613.8L1797.2 625.3L1797.9 641.3L1798.6 653.3L1799.6 663.6L1800.6 676.7L1801.5 685.7L1802.5 692.2L1803.5 672.1L1804.4 653.3L1805.2 633.9L1805.9 611.1L1806.7 593.5L1807.4 571.7L1808.3 569.1L1809.3 569.7L1810.1 567.8L1811.0 561.6L1811.8 559.0L1812.6 572.2L1813.4 582.0L1814.2 595.0L1815.0 589.9L1815.7 583.3L1816.5 587.1L1817.3 593.2L1818.1 596.9L1818.9 608.6L1819.6 622.8L1820.4 633.9L1821.2 642.2L1821.9 653.3L1822.9 671.1L1823.9 686.4L1824.8 649.0L1825.8 614.4L1826.8 551.4L1827.8 488.1L1828.8 466.6L1829.7 445.3L1830.5 481.1L1831.3 516.3L1832.1 552.2L1833.0 496.3L1834.0 440.0L1834.8 388.0L1835.6 336.1L1836.4 310.2L1837.3 284.2L1838.1 282.5L1838.8 281.3L1839.6 279.5L1840.4 258.7L1841.2 238.3L1841.9 217.3L1842.7 196.8L1843.6 233.7L1844.4 270.0L1845.3 268.7L1846.3 267.6L1847.1 235.5L1847.8 202.9L1848.6 170.8L1849.5 147.3L1850.5 123.6L1851.3 118.2L1852.2 113.0L1852.9 113.1L1853.6 112.9L1854.3 113.2L1855.1 112.8L1855.8 113.1L1856.5 112.9L1857.2 113.2L1857.9 112.9L1858.6 113.1L1859.3 112.9L1860.0 113.1L1860.8 112.9L1861.5 113.1L1862.2 112.8L1862.9 113.3L1863.6 112.8L1864.3 113.1L1865.0 112.8L1865.7 113.1L1866.5 112.8L1867.2 113.1L1867.9 112.7L1868.6 113.1L1869.3 112.8L1870.0 113.2L1870.7 112.8L1871.4 113.2L1872.2 112.8L1872.9 113.2L1873.6 112.8L1874.3 113.2L1875.0 112.8L1875.7 113.2L1876.4 112.8L1877.1 113.2L1877.9 112.7L1878.6 113.2L1879.3 112.8L1880.0 113.0" stroke="#000" stroke-width="2.4" fill="none" stroke-linejoin="round"/>
</g>
<rect x="280.5" y="112.3" width="1594.90" height="1065.10" fill="none" stroke="#000" stroke-width="3.33" stroke-linejoin="miter"/>
<path d="M426.25 1177.40v14.58M638.95 1177.40v14.58M851.65 1177.40v14.58M1064.35 1177.40v14.58M1277.05 1177.40v14.58M1489.75 1177.40v14.58M1702.45 1177.40v14.58" stroke="#000" stroke-width="3.33"/>
<path d="M280.50 800.3h-14.58" stroke="#000" stroke-width="3.33"/>
<path d="M280.50 242.79h-8.33M280.50 885.04h-8.33M280.50 979.78h-8.33M280.50 1087.18h-8.33" stroke="#000" stroke-width="2.5"/>
<text x="377.7" y="86.9" font-size="50" font-family="Liberation Sans, sans-serif" textLength="475.3" lengthAdjust="spacingAndGlyphs">Peak field sums for</text>
<text x="869" y="86.9" font-size="50" font-family="Liberation Sans, sans-serif" textLength="906.5" lengthAdjust="spacingAndGlyphs">UK0008_20260106_163715_562395</text>
<text x="180.3" y="816.4" font-size="43.3" font-family="Liberation Sans, sans-serif" textLength="51.5" lengthAdjust="spacingAndGlyphs">10</text>
<text x="231.8" y="800.2" font-size="30.3" font-family="Liberation Sans, sans-serif" textLength="18.8" lengthAdjust="spacingAndGlyphs">8</text>
<text x="110" y="258" font-size="41.67" font-family="Liberation Sans, sans-serif" textLength="23" lengthAdjust="spacingAndGlyphs">2</text>
<path d="M150.8 234.3L170.4 254.1M170.4 234.3L150.8 254.1" stroke="#000" stroke-width="3.1"/>
<text x="188" y="258" font-size="41.67" font-family="Liberation Sans, sans-serif" textLength="51.5" lengthAdjust="spacingAndGlyphs">10</text>
<text x="239" y="241.7" font-size="29.17" font-family="Liberation Sans, sans-serif" textLength="18" lengthAdjust="spacingAndGlyphs">8</text>
<g transform="translate(511.25 1234) rotate(-30)"><text x="0" y="0" font-size="42.4" font-family="Liberation Sans, sans-serif" text-anchor="end" textLength="188" lengthAdjust="spacingAndGlyphs">01-06 18</text></g>
<g transform="translate(723.95 1234) rotate(-30)"><text x="0" y="0" font-size="42.4" font-family="Liberation Sans, sans-serif" text-anchor="end" textLength="188" lengthAdjust="spacingAndGlyphs">01-06 20</text></g>
<g transform="translate(936.65 1234) rotate(-30)"><text x="0" y="0" font-size="42.4" font-family="Liberation Sans, sans-serif" text-anchor="end" textLength="188" lengthAdjust="spacingAndGlyphs">01-06 22</text></g>
<g transform="translate(1149.35 1234) rotate(-30)"><text x="0" y="0" font-size="42.4" font-family="Liberation Sans, sans-serif" text-anchor="end" textLength="188" lengthAdjust="spacingAndGlyphs">01-07 00</text></g>
<g transform="translate(1362.05 1234) rotate(-30)"><text x="0" y="0" font-size="42.4" font-family="Liberation Sans, sans-serif" text-anchor="end" textLength="188" lengthAdjust="spacingAndGlyphs">01-07 02</text></g>
<g transform="translate(1574.75 1234) rotate(-30)"><text x="0" y="0" font-size="42.4" font-family="Liberation Sans, sans-serif" text-anchor="end" textLength="188" lengthAdjust="spacingAndGlyphs">01-07 04</text></g>
<g transform="translate(1787.45 1234) rotate(-30)"><text x="0" y="0" font-size="42.4" font-family="Liberation Sans, sans-serif" text-anchor="end" textLength="188" lengthAdjust="spacingAndGlyphs">01-07 06</text></g>
<text x="1025" y="1386.7" font-size="41.67" font-family="Liberation Sans, sans-serif" textLength="102" lengthAdjust="spacingAndGlyphs">Time</text>
<g transform="translate(82.3 691.2) rotate(-90)"><text x="0" y="0" font-size="43.5" font-family="Liberation Sans, sans-serif" textLength="88.5" lengthAdjust="spacingAndGlyphs">ADU</text></g>
<rect x="300.2" y="1018.3" width="320.7" height="139.0" rx="8.33" ry="8.33" fill="#fff" fill-opacity="0.8" stroke="#cccccc" stroke-opacity="0.8" stroke-width="3.33"/>
<path d="M316 1054H401" stroke="#ff0000" stroke-width="2.08"/>
<path d="M316 1115.9H401" stroke="#000" stroke-width="2.08"/>
<text x="433.8" y="1069.2" font-size="43.2" font-family="Liberation Sans, sans-serif" textLength="99.5" lengthAdjust="spacingAndGlyphs">Peak</text>
<text x="434.2" y="1131.5" font-size="43.2" font-family="Liberation Sans, sans-serif" textLength="170" lengthAdjust="spacingAndGlyphs">Average</text>
</svg>
</body></html>
